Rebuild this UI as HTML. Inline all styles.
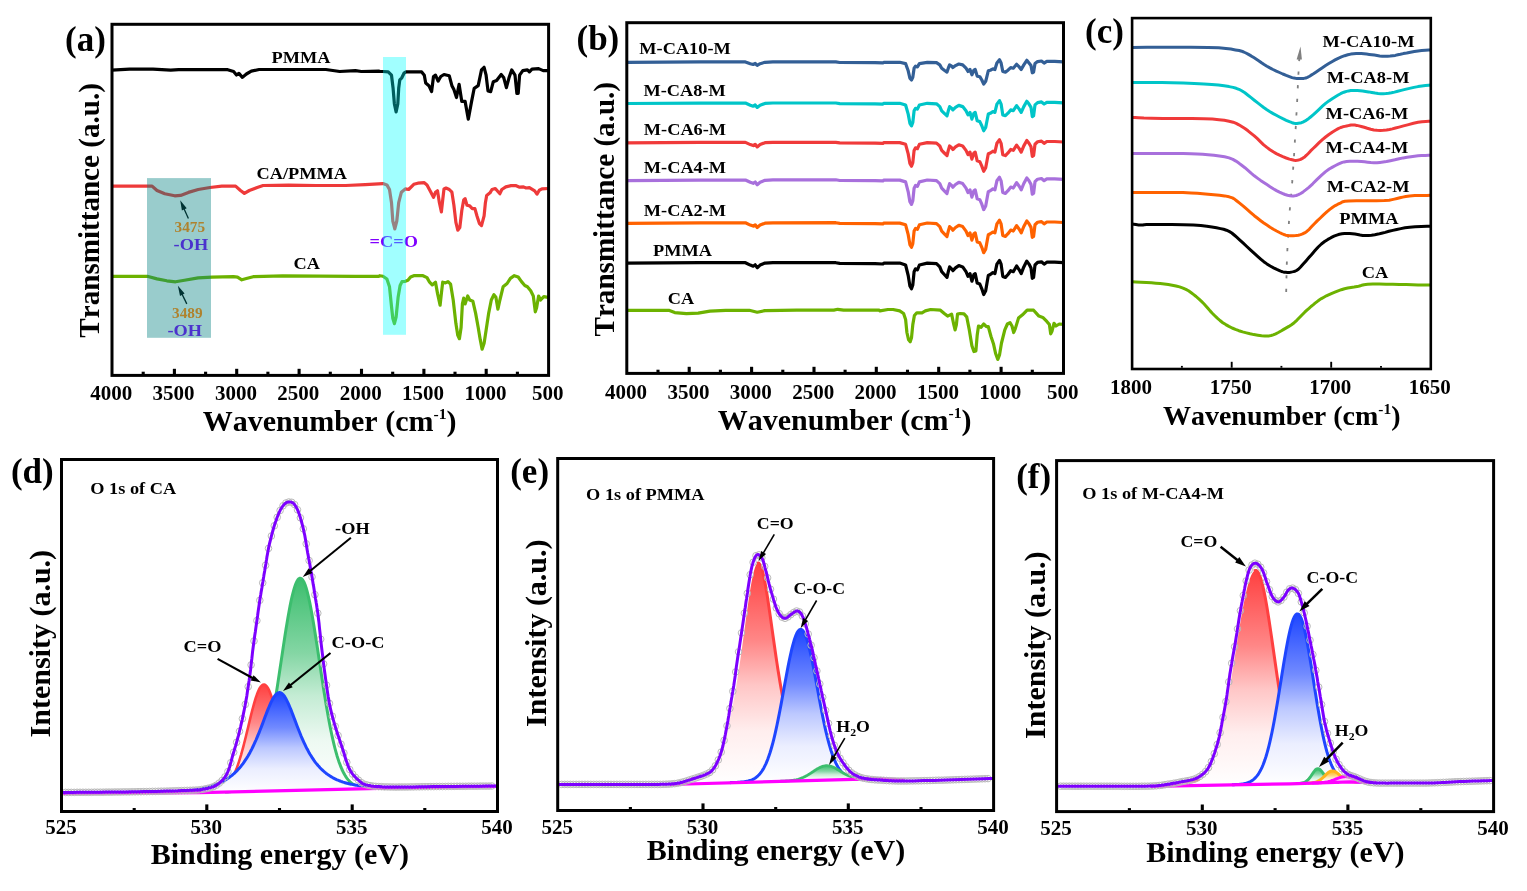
<!DOCTYPE html>
<html lang="en"><head><meta charset="utf-8"><title>FTIR and XPS O 1s spectra</title>
<style>
html,body{margin:0;padding:0;background:#fff;}
svg{display:block;}
text{font-family:"Liberation Serif",serif;font-weight:bold;font-kerning:none;}
</style></head><body>
<svg width="1527" height="891" viewBox="0 0 1527 891">
<defs>
<linearGradient id="g1" gradientUnits="userSpaceOnUse" x1="0" y1="578.2" x2="0" y2="792.1"><stop offset="0" stop-color="#3cbe6e"/><stop offset="0.35" stop-color="#84d6a4"/><stop offset="0.55" stop-color="#c4ecd4"/><stop offset="0.76" stop-color="#edf9f2"/><stop offset="1" stop-color="#ffffff"/></linearGradient>
<linearGradient id="g2" gradientUnits="userSpaceOnUse" x1="0" y1="684.5" x2="0" y2="792.6"><stop offset="0" stop-color="#ff4040"/><stop offset="0.35" stop-color="#ff8787"/><stop offset="0.55" stop-color="#ffc6c6"/><stop offset="0.76" stop-color="#ffeeee"/><stop offset="1" stop-color="#ffffff"/></linearGradient>
<linearGradient id="g3" gradientUnits="userSpaceOnUse" x1="0" y1="692.6" x2="0" y2="793"><stop offset="0" stop-color="#1e46ff"/><stop offset="0.35" stop-color="#718aff"/><stop offset="0.55" stop-color="#bcc8ff"/><stop offset="0.76" stop-color="#ebeeff"/><stop offset="1" stop-color="#ffffff"/></linearGradient>
<linearGradient id="g4" gradientUnits="userSpaceOnUse" x1="0" y1="777.5" x2="0" y2="784.5"><stop offset="0" stop-color="#ff4040"/><stop offset="0.35" stop-color="#ff8787"/><stop offset="0.55" stop-color="#ffc6c6"/><stop offset="0.76" stop-color="#ffeeee"/><stop offset="1" stop-color="#ffffff"/></linearGradient>
<linearGradient id="g5" gradientUnits="userSpaceOnUse" x1="0" y1="563" x2="0" y2="784.6"><stop offset="0" stop-color="#ff4040"/><stop offset="0.35" stop-color="#ff8787"/><stop offset="0.55" stop-color="#ffc6c6"/><stop offset="0.76" stop-color="#ffeeee"/><stop offset="1" stop-color="#ffffff"/></linearGradient>
<linearGradient id="g6" gradientUnits="userSpaceOnUse" x1="0" y1="629.4" x2="0" y2="782.7"><stop offset="0" stop-color="#1e46ff"/><stop offset="0.35" stop-color="#718aff"/><stop offset="0.55" stop-color="#bcc8ff"/><stop offset="0.76" stop-color="#ebeeff"/><stop offset="1" stop-color="#ffffff"/></linearGradient>
<linearGradient id="g7" gradientUnits="userSpaceOnUse" x1="0" y1="765.7" x2="0" y2="781.5"><stop offset="0" stop-color="#3cbe6e"/><stop offset="0.35" stop-color="#84d6a4"/><stop offset="0.55" stop-color="#c4ecd4"/><stop offset="0.76" stop-color="#edf9f2"/><stop offset="1" stop-color="#ffffff"/></linearGradient>
<linearGradient id="g8" gradientUnits="userSpaceOnUse" x1="0" y1="779.5" x2="0" y2="786.2"><stop offset="0" stop-color="#ff4040"/><stop offset="0.35" stop-color="#ff8787"/><stop offset="0.55" stop-color="#ffc6c6"/><stop offset="0.76" stop-color="#ffeeee"/><stop offset="1" stop-color="#ffffff"/></linearGradient>
<linearGradient id="g9" gradientUnits="userSpaceOnUse" x1="0" y1="570.4" x2="0" y2="785.8"><stop offset="0" stop-color="#ff4040"/><stop offset="0.35" stop-color="#ff8787"/><stop offset="0.55" stop-color="#ffc6c6"/><stop offset="0.76" stop-color="#ffeeee"/><stop offset="1" stop-color="#ffffff"/></linearGradient>
<linearGradient id="g10" gradientUnits="userSpaceOnUse" x1="0" y1="613.8" x2="0" y2="784.8"><stop offset="0" stop-color="#1e46ff"/><stop offset="0.35" stop-color="#718aff"/><stop offset="0.55" stop-color="#bcc8ff"/><stop offset="0.76" stop-color="#ebeeff"/><stop offset="1" stop-color="#ffffff"/></linearGradient>
<linearGradient id="g11" gradientUnits="userSpaceOnUse" x1="0" y1="768.7" x2="0" y2="783.6"><stop offset="0" stop-color="#3cbe6e"/><stop offset="0.35" stop-color="#84d6a4"/><stop offset="0.55" stop-color="#c4ecd4"/><stop offset="0.76" stop-color="#edf9f2"/><stop offset="1" stop-color="#ffffff"/></linearGradient>
<linearGradient id="g12" gradientUnits="userSpaceOnUse" x1="0" y1="770.9" x2="0" y2="783.2"><stop offset="0" stop-color="#ffb41e"/><stop offset="0.35" stop-color="#ffd071"/><stop offset="0.55" stop-color="#ffe8bc"/><stop offset="0.76" stop-color="#fff8eb"/><stop offset="1" stop-color="#ffffff"/></linearGradient>
<linearGradient id="g13" gradientUnits="userSpaceOnUse" x1="0" y1="776.6" x2="0" y2="783.1"><stop offset="0" stop-color="#ffb0f0"/><stop offset="0.35" stop-color="#ffcdf6"/><stop offset="0.55" stop-color="#ffe7fa"/><stop offset="0.76" stop-color="#fff8fe"/><stop offset="1" stop-color="#ffffff"/></linearGradient>
</defs>
<rect width="1527" height="891" fill="#fff"/>
<g id="panel-a">
<path d="M111.8 70.1 L129.5 69.1 L153 69.1 L170.7 70.1 L178.6 69.7 L227.7 69.7 L233.6 71.5 L236.5 75 L238.9 73.4 L242.4 77.4 L246.4 74 L251.3 71.1 L259.1 69.5 L325.9 69.5 L339.7 71.5 L355.4 70.7 L361.3 71.5 L379 71.1 L379.7 71.5 L383 71.5 L388.2 71.9 L391.5 75.2 L393.1 88.3 L394.4 104 L396.1 111.9 L397.8 104 L398.7 88.3 L399.8 79.8 L401.8 77.8 L404 73.2 L406 71.9 L408.6 71.9 L421.7 71.9 L424.3 75.2 L425.7 83 L428.9 85.7 L431.6 91.6 L433.5 76.5 L435.5 75.2 L438.1 81.1 L440.8 76.5 L444 74.5 L449.3 75.8 L451.9 85.7 L453.9 89.6 L456.5 97.5 L459.1 84.3 L461.8 101.4 L465.1 101.4 L468.3 119.1 L471.6 101.4 L474.2 88.3 L478.2 85.7 L481.5 69.9 L484.1 67.3 L486.1 75.2 L488 90.9 L490.7 91.6 L493.3 81.7 L496.6 80.4 L501.2 74.5 L503.8 77.8 L506.4 87.6 L509 77.8 L511.7 69.9 L515 75.2 L516.9 93.5 L518.2 93.5 L519.6 75.2 L522.8 70.6 L527.4 69.9 L529.4 71.9 L532 69.2 L538.6 68.6 L543.2 70.6 L548 70.6" fill="none" stroke="#000" stroke-width="3.2" stroke-linejoin="round" stroke-linecap="butt" />
<path d="M111.8 186.1 L147.2 186.1 L152.1 186.1 L157 190.5 L164.8 193.8 L174.7 195.8 L180.6 195.4 L188.4 192.4 L198.2 189.5 L210 187.5 L221.8 186.1 L235.6 186.1 L240.5 190.5 L244.4 193.4 L249.3 190.5 L257.2 187.5 L263.1 185.5 L288.6 185.1 L316.1 185.5 L345.6 185.5 L365.2 184.6 L382.9 183.6 L386.9 184.9 L389.5 189.5 L391.5 202.7 L392.8 221 L394.8 228.9 L396.8 221 L398.7 202.7 L401.4 192.2 L405.3 188.9 L408.6 189.5 L413.8 184.3 L417.8 183.2 L424.3 182.7 L427 184.9 L430.9 192.2 L433.5 197.4 L435.5 192.2 L437.5 190.8 L439.4 202.7 L441.4 211.9 L442.7 200 L444 188.9 L446 188 L449.3 189.5 L451.9 192.2 L453.9 205.3 L455.9 222.4 L457.8 230.2 L459.8 227.6 L461.8 210.5 L463.7 200 L465.1 198.7 L467 205.3 L469.7 205.9 L472.3 208.6 L474.9 208.6 L476.9 215.8 L479.5 223.7 L481.5 225.6 L484.1 215.8 L485.4 202.7 L486.7 195.4 L490 192.8 L492 189.5 L495.3 188.5 L497.9 191.5 L499.9 193.7 L501.8 189.5 L505.8 186.9 L511 185.6 L515.6 185.6 L519.6 187.2 L523.5 186.9 L526.1 188 L529.4 187.6 L534.7 190.8 L537 194.1 L539.3 190.2 L541.9 188.9 L548 188.5" fill="none" stroke="#EE3A3A" stroke-width="3.2" stroke-linejoin="round" stroke-linecap="butt" />
<path d="M111.8 276.3 L147.2 276.3 L157 278.9 L166.8 280.8 L175.6 281.8 L184.5 280.2 L198.2 277.9 L212 277.1 L233.6 276.7 L237.5 277.1 L241.8 279.8 L246.4 278.5 L253.2 276.7 L282.7 275.9 L355.4 276.3 L379 276.3 L379.7 275.7 L383 276.3 L386.9 279 L389.5 286.8 L391.5 306.5 L392.8 318.3 L394.4 323.6 L396.1 317 L398.1 297.3 L400.1 285.5 L402 281.6 L405.3 281.3 L407.9 280.3 L410.6 277 L413.8 275.7 L423 275.7 L427 277.6 L429.6 282.2 L432.2 284.9 L435.5 282.2 L437.5 293.4 L440.1 305.2 L441.4 293.4 L442.7 282.2 L445.4 282.9 L448 281.6 L450.6 284.2 L453.2 300 L455.9 323.6 L457.8 335.4 L459.4 338.7 L461.1 327.5 L462.4 303.9 L463.7 298 L465.1 303.9 L467.7 296 L469.7 300 L472.9 301.3 L475.6 313.1 L478.2 327.5 L480.2 339.4 L482.1 349.2 L484.1 343.3 L486.1 330.2 L488.7 313.1 L491.3 300 L493.9 294.7 L495.9 297.3 L497.9 309.2 L499.9 300 L503.1 286.8 L507.1 283.5 L510.4 278.3 L514.3 275.7 L518.2 277 L521.5 281.6 L524.8 285.5 L527.4 286.8 L530.7 290.8 L533.3 296 L535.3 311.8 L536.6 307.8 L538.6 296 L540.6 300 L543.8 296.7 L548 297.3" fill="none" stroke="#6CB200" stroke-width="3.2" stroke-linejoin="round" stroke-linecap="butt" />
<line x1="188.4" y1="218.5" x2="183.9" y2="208.5" stroke="#000" stroke-width="1.3"/>
<path d="M180.2 200.3 L186.7 208.3 L181.9 210.5 Z" fill="#000"/>
<line x1="186.8" y1="303.9" x2="181.9" y2="293.9" stroke="#000" stroke-width="1.3"/>
<path d="M177.9 285.8 L184.6 293.6 L180 295.9 Z" fill="#000"/>
<text transform="translate(369.6 246.6) scale(1.018 0.945)" font-size="18" text-anchor="start" fill="#8000FF">=C=O</text>
<rect x="147" y="178.1" width="64" height="159.7" fill="#008080" fill-opacity="0.4"/>
<rect x="383" y="57" width="23" height="277.8" fill="#00FFFF" fill-opacity="0.37"/>
<text transform="translate(174.5 231.7) scale(1.018 0.945)" font-size="15" text-anchor="start" fill="#AF822D">3475</text>
<text transform="translate(173.6 249.8) scale(1.018 0.945)" font-size="18" text-anchor="start" fill="#4B32CD">-OH</text>
<text transform="translate(172 317.9) scale(1.018 0.945)" font-size="15" text-anchor="start" fill="#AF822D">3489</text>
<text transform="translate(167.5 335.7) scale(1.018 0.945)" font-size="18" text-anchor="start" fill="#4B32CD">-OH</text>
<text transform="translate(271.5 62.8) scale(1.018 0.945)" font-size="18" text-anchor="start" fill="#000">PMMA</text>
<text transform="translate(256.6 179) scale(1.018 0.945)" font-size="18" text-anchor="start" fill="#000">CA/PMMA</text>
<text transform="translate(293.5 268.6) scale(1.018 0.945)" font-size="18" text-anchor="start" fill="#000">CA</text>
<rect x="112" y="24.3" width="436.6" height="351.1" fill="none" stroke="#000" stroke-width="3"/>
<line x1="174.4" y1="374" x2="174.4" y2="368.8" stroke="#000" stroke-width="3.1"/>
<line x1="236.7" y1="374" x2="236.7" y2="368.8" stroke="#000" stroke-width="3.1"/>
<line x1="299.1" y1="374" x2="299.1" y2="368.8" stroke="#000" stroke-width="3.1"/>
<line x1="361.5" y1="374" x2="361.5" y2="368.8" stroke="#000" stroke-width="3.1"/>
<line x1="423.9" y1="374" x2="423.9" y2="368.8" stroke="#000" stroke-width="3.1"/>
<line x1="486.2" y1="374" x2="486.2" y2="368.8" stroke="#000" stroke-width="3.1"/>
<line x1="143.2" y1="374" x2="143.2" y2="371.7" stroke="#000" stroke-width="3.1"/>
<line x1="205.6" y1="374" x2="205.6" y2="371.7" stroke="#000" stroke-width="3.1"/>
<line x1="267.9" y1="374" x2="267.9" y2="371.7" stroke="#000" stroke-width="3.1"/>
<line x1="330.3" y1="374" x2="330.3" y2="371.7" stroke="#000" stroke-width="3.1"/>
<line x1="392.7" y1="374" x2="392.7" y2="371.7" stroke="#000" stroke-width="3.1"/>
<line x1="455" y1="374" x2="455" y2="371.7" stroke="#000" stroke-width="3.1"/>
<line x1="517.4" y1="374" x2="517.4" y2="371.7" stroke="#000" stroke-width="3.1"/>
<text x="111.2" y="399.9" font-size="21" text-anchor="middle" fill="#000" >4000</text>
<text x="173.6" y="399.9" font-size="21" text-anchor="middle" fill="#000" >3500</text>
<text x="235.9" y="399.9" font-size="21" text-anchor="middle" fill="#000" >3000</text>
<text x="298.3" y="399.9" font-size="21" text-anchor="middle" fill="#000" >2500</text>
<text x="360.7" y="399.9" font-size="21" text-anchor="middle" fill="#000" >2000</text>
<text x="423.1" y="399.9" font-size="21" text-anchor="middle" fill="#000" >1500</text>
<text x="485.4" y="399.9" font-size="21" text-anchor="middle" fill="#000" >1000</text>
<text x="547.8" y="399.9" font-size="21" text-anchor="middle" fill="#000" >500</text>
<text x="329.6" y="430.6" font-size="30" text-anchor="middle" fill="#000" >Wavenumber (cm<tspan font-size="15.6" dy="-11.4">-1</tspan><tspan dy="11.4">)</tspan></text>
<text x="98.8" y="210.4" font-size="29.1" text-anchor="middle" fill="#000" transform="rotate(-90 98.8 210.4)" >Transmittance (a.u.)</text>
<text x="65" y="50.5" font-size="35" text-anchor="start" fill="#000" >(a)</text>
</g>
<g id="panel-b">
<path d="M626.5 62.3 L700.2 61.9 L745.4 61.9 L750.3 63.7 L753.2 64.5 L755.2 63.5 L757.2 65.4 L760.1 63.7 L765 62.3 L772.9 61.9 L835.8 61.9 L839.7 62.5 L875 62.7 L882.9 62.9 L883.9 62.3 L899.7 62.3 L905.6 63.6 L908.2 70.8 L909.9 78.1 L911.5 80 L912.8 77.4 L914.1 68.2 L915.5 66.2 L917.4 66.9 L919.4 63.6 L927.3 62.3 L936.5 62.7 L939.8 64.9 L941.7 68.2 L944.3 70.2 L947 72.1 L948.3 68.2 L949.6 64.9 L951.6 66.2 L952.9 67.6 L955.5 65.6 L958.8 64 L962.7 64.9 L966 68.2 L968 71.5 L970 69.5 L971.9 74.8 L973.9 70.2 L975.2 69.5 L977.2 76.1 L979.8 76.7 L981.8 80 L983.7 84 L985.7 81.3 L987 76.1 L988.3 70.8 L990.3 70.2 L992.9 68.9 L994.9 69.5 L996.9 63 L999.5 59.7 L1001.1 63 L1002.8 71.5 L1005.4 72.1 L1008 70.2 L1010.7 67.6 L1013.3 68.2 L1016.6 64.3 L1019.2 66.9 L1021.2 69.5 L1023.8 64.9 L1026.8 60.3 L1029 63 L1031 65.6 L1032.3 72.8 L1033.6 72.1 L1035 63.6 L1037.6 61.6 L1041.5 61 L1044.1 63 L1046.8 61.4 L1054.7 61.4 L1063.2 61.9" fill="none" stroke="#335F96" stroke-width="3.2" stroke-linejoin="round" stroke-linecap="butt" />
<path d="M626.5 103.5 L700.2 103.1 L745.4 103 L750.3 105.2 L753.2 106.2 L755.2 104.9 L757.2 107.4 L760.1 105.2 L765 103.4 L772.9 103 L835.8 103 L839.7 103.6 L875 103.8 L882.9 104.1 L883.9 103.3 L899.7 103.3 L905.6 105 L908.2 114.1 L909.9 123.3 L911.5 125.8 L912.8 122.5 L914.1 110.8 L915.5 108.3 L917.4 109.1 L919.4 105 L927.3 103.3 L936.5 103.8 L939.8 106.6 L941.7 110.8 L944.3 113.3 L947 115.8 L948.3 110.8 L949.6 106.6 L951.6 108.3 L952.9 109.9 L955.5 107.4 L958.8 105.4 L962.7 106.6 L966 110.8 L968 114.9 L970 112.4 L971.9 119.1 L973.9 113.3 L975.2 112.4 L977.2 120.8 L979.8 121.6 L981.8 125.8 L983.7 130.8 L985.7 127.4 L987 120.8 L988.3 114.1 L990.3 113.3 L992.9 111.6 L994.9 112.4 L996.9 104.1 L999.5 100.6 L1001.1 104.1 L1002.8 114.9 L1005.4 115.7 L1008 113.2 L1010.7 109.9 L1013.3 110.7 L1016.6 105.7 L1019.2 109.1 L1021.2 112.4 L1023.8 106.6 L1026.8 101.3 L1029 104.1 L1031 107.4 L1032.3 116.6 L1033.6 115.7 L1035 104.9 L1037.6 102.6 L1041.5 101.9 L1044.1 104 L1046.8 102.3 L1054.7 102.3 L1063.2 102.8" fill="none" stroke="#00C5C8" stroke-width="3.2" stroke-linejoin="round" stroke-linecap="butt" />
<path d="M626.5 142.9 L700.2 142.4 L745.4 142.4 L750.3 144.6 L753.2 145.6 L755.2 144.3 L757.2 146.9 L760.1 144.6 L765 142.7 L772.9 142.3 L835.8 142.3 L839.7 142.9 L875 143.1 L882.9 143.4 L883.9 142.6 L899.7 142.6 L905.6 144.3 L908.2 153.9 L909.9 163.5 L911.5 166.2 L912.8 162.7 L914.1 150.4 L915.5 147.8 L917.4 148.7 L919.4 144.3 L927.3 142.6 L936.5 143.1 L939.8 146 L941.7 150.4 L944.3 153 L947 155.6 L948.3 150.4 L949.6 146 L951.6 147.8 L952.9 149.5 L955.5 146.9 L958.8 144.8 L962.7 146 L966 150.4 L968 154.7 L970 152.1 L971.9 159.1 L973.9 153 L975.2 152.1 L977.2 160.8 L979.8 161.7 L981.8 166.1 L983.7 171.3 L985.7 167.8 L987 160.8 L988.3 153.8 L990.3 153 L992.9 151.2 L994.9 152.1 L996.9 143.3 L999.5 139.8 L1001.1 143.3 L1002.8 154.7 L1005.4 155.6 L1008 152.9 L1010.7 149.4 L1013.3 150.3 L1016.6 145.1 L1019.2 148.6 L1021.2 152.1 L1023.8 145.9 L1026.8 140.5 L1029 143.3 L1031 146.8 L1032.3 156.4 L1033.6 155.5 L1035 144.2 L1037.6 141.8 L1041.5 141.1 L1044.1 143.3 L1046.8 141.5 L1054.7 141.5 L1063.2 142" fill="none" stroke="#F03A3A" stroke-width="3.2" stroke-linejoin="round" stroke-linecap="butt" />
<path d="M626.5 180.6 L700.2 180.1 L745.4 180 L750.3 182.3 L753.2 183.3 L755.2 182 L757.2 184.7 L760.1 182.2 L765 180.3 L772.9 179.9 L835.8 179.8 L839.7 180.5 L875 180.7 L882.9 180.9 L883.9 180.1 L899.7 180.1 L905.6 181.9 L908.2 191.8 L909.9 201.7 L911.5 204.4 L912.8 200.8 L914.1 188.2 L915.5 185.5 L917.4 186.4 L919.4 181.9 L927.3 180 L936.5 180.6 L939.8 183.6 L941.7 188.1 L944.3 190.8 L947 193.5 L948.3 188.1 L949.6 183.6 L951.6 185.4 L952.9 187.2 L955.5 184.5 L958.8 182.3 L962.7 183.6 L966 188.1 L968 192.6 L970 189.9 L971.9 197.1 L973.9 190.8 L975.2 189.9 L977.2 198.8 L979.8 199.7 L981.8 204.2 L983.7 209.6 L985.7 206 L987 198.8 L988.3 191.6 L990.3 190.7 L992.9 188.9 L994.9 189.8 L996.9 180.8 L999.5 177.3 L1001.1 180.8 L1002.8 192.5 L1005.4 193.4 L1008 190.7 L1010.7 187.1 L1013.3 188 L1016.6 182.6 L1019.2 186.2 L1021.2 189.8 L1023.8 183.5 L1026.8 177.9 L1029 180.8 L1031 184.4 L1032.3 194.2 L1033.6 193.3 L1035 181.7 L1037.6 179.2 L1041.5 178.5 L1044.1 180.7 L1046.8 178.9 L1054.7 178.9 L1063.2 179.4" fill="none" stroke="#A870DC" stroke-width="3.2" stroke-linejoin="round" stroke-linecap="butt" />
<path d="M626.5 223.3 L700.2 222.8 L745.4 222.8 L750.3 225.1 L753.2 226.1 L755.2 224.8 L757.2 227.5 L760.1 225.1 L765 223.2 L772.9 222.8 L835.8 222.7 L839.7 223.4 L875 223.6 L882.9 223.9 L883.9 223.1 L899.7 223.1 L905.6 224.8 L908.2 234.7 L909.9 244.6 L911.5 247.3 L912.8 243.7 L914.1 231.1 L915.5 228.4 L917.4 229.3 L919.4 224.8 L927.3 223 L936.5 223.6 L939.8 226.6 L941.7 231.1 L944.3 233.8 L947 236.5 L948.3 231.1 L949.6 226.6 L951.6 228.4 L952.9 230.2 L955.5 227.5 L958.8 225.3 L962.7 226.6 L966 231.1 L968 235.6 L970 232.9 L971.9 240.1 L973.9 233.8 L975.2 232.9 L977.2 241.9 L979.8 242.8 L981.8 247.3 L983.7 252.7 L985.7 249.1 L987 241.9 L988.3 234.7 L990.3 233.8 L992.9 232 L994.9 232.9 L996.9 223.9 L999.5 220.3 L1001.1 223.9 L1002.8 235.5 L1005.4 236.4 L1008 233.7 L1010.7 230.1 L1013.3 231 L1016.6 225.6 L1019.2 229.2 L1021.2 232.8 L1023.8 226.5 L1026.8 221 L1029 223.8 L1031 227.4 L1032.3 237.3 L1033.6 236.4 L1035 224.7 L1037.6 222.3 L1041.5 221.6 L1044.1 223.8 L1046.8 222 L1054.7 222 L1063.2 222.5" fill="none" stroke="#FF6200" stroke-width="3.2" stroke-linejoin="round" stroke-linecap="butt" />
<path d="M626.5 263.1 L700.2 262.7 L745.4 262.7 L750.3 265.1 L753.2 266.2 L755.2 264.8 L757.2 267.7 L760.1 265.1 L765 263.1 L772.9 262.7 L835.8 262.7 L839.7 263.4 L875 263.7 L882.9 264 L883.9 263.1 L899.7 263.1 L905.6 265 L908.2 275.5 L909.9 285.9 L911.5 288.8 L912.8 285 L914.1 271.7 L915.5 268.8 L917.4 269.8 L919.4 265 L927.3 263.1 L936.5 263.7 L939.8 266.9 L941.7 271.7 L944.3 274.5 L947 277.4 L948.3 271.7 L949.6 266.9 L951.6 268.8 L952.9 270.7 L955.5 267.9 L958.8 265.6 L962.7 266.9 L966 271.7 L968 276.4 L970 273.6 L971.9 281.2 L973.9 274.5 L975.2 273.6 L977.2 283.1 L979.8 284 L981.8 288.8 L983.7 294.5 L985.7 290.7 L987 283.1 L988.3 275.5 L990.3 274.5 L992.9 272.6 L994.9 273.6 L996.9 264.1 L999.5 260.5 L1001.1 264.1 L1002.8 276.4 L1005.4 277.4 L1008 274.5 L1010.7 270.7 L1013.3 271.7 L1016.6 266 L1019.2 269.8 L1021.2 273.6 L1023.8 266.9 L1026.8 261.1 L1029 264.1 L1031 267.9 L1032.3 278.3 L1033.6 277.4 L1035 265 L1037.6 262.4 L1041.5 261.8 L1044.1 264.1 L1046.8 262.2 L1054.7 262.2 L1063.2 262.7" fill="none" stroke="#000000" stroke-width="3.2" stroke-linejoin="round" stroke-linecap="butt" />
<path d="M626.5 310.3 L668.8 310.3 L674.7 312.6 L686.4 313.6 L698.2 313.2 L710 311.2 L725.7 310.3 L749.3 310.3 L757.2 312.2 L765 310.6 L796.5 310.1 L833.8 310.1 L837.7 309.3 L843.6 310.1 L879 310.1 L880 310.9 L887.9 309.5 L893.1 309.5 L899.7 310.9 L903.6 313.5 L905.6 319.4 L906.9 332.5 L908.6 339.8 L910.2 341.7 L911.5 337.8 L912.8 324.6 L914.4 315.5 L916.8 312.8 L922 312.8 L925.3 310.9 L930.6 309.5 L940.4 310.2 L944.3 313.5 L947.6 316.1 L951.6 314.1 L953.5 323.3 L955.1 329.9 L956.4 324.6 L957.5 314.1 L960.1 313.5 L964 313.9 L966.7 316.8 L969.3 329.9 L971.9 345.7 L973.9 351.6 L975.9 350.9 L977.2 335.2 L978.5 326 L981.1 327.3 L983.7 324 L986.4 326.6 L988.3 326.6 L991 336.5 L993.6 344.3 L995.6 353.5 L997.8 359.4 L999.5 354.9 L1001.5 343 L1004.8 329.9 L1007.4 324 L1010 322.7 L1012 326 L1013.7 332.5 L1015.3 328.6 L1018.5 318.1 L1022.5 314.8 L1027.1 310.2 L1033.6 310.2 L1038.9 316.1 L1042.8 317.4 L1046.8 321.4 L1049.4 324.6 L1050.7 333.8 L1052 331.2 L1054 323.3 L1056 326 L1059.3 324 L1063.2 324.4" fill="none" stroke="#6CB200" stroke-width="3.2" stroke-linejoin="round" stroke-linecap="butt" />
<text transform="translate(639.3 53.8) scale(1.018 0.945)" font-size="18" text-anchor="start" fill="#000">M-CA10-M</text>
<text transform="translate(643.4 95.6) scale(1.018 0.945)" font-size="18" text-anchor="start" fill="#000">M-CA8-M</text>
<text transform="translate(643.8 134.5) scale(1.018 0.945)" font-size="18" text-anchor="start" fill="#000">M-CA6-M</text>
<text transform="translate(643.8 172.7) scale(1.018 0.945)" font-size="18" text-anchor="start" fill="#000">M-CA4-M</text>
<text transform="translate(643.8 215.8) scale(1.018 0.945)" font-size="18" text-anchor="start" fill="#000">M-CA2-M</text>
<text transform="translate(653 255.6) scale(1.018 0.945)" font-size="18" text-anchor="start" fill="#000">PMMA</text>
<text transform="translate(667.8 303.8) scale(1.018 0.945)" font-size="18" text-anchor="start" fill="#000">CA</text>
<rect x="626.8" y="22.7" width="436.7" height="350.7" fill="none" stroke="#000" stroke-width="3"/>
<line x1="689.2" y1="372" x2="689.2" y2="366.8" stroke="#000" stroke-width="3.1"/>
<line x1="751.6" y1="372" x2="751.6" y2="366.8" stroke="#000" stroke-width="3.1"/>
<line x1="814" y1="372" x2="814" y2="366.8" stroke="#000" stroke-width="3.1"/>
<line x1="876.3" y1="372" x2="876.3" y2="366.8" stroke="#000" stroke-width="3.1"/>
<line x1="938.7" y1="372" x2="938.7" y2="366.8" stroke="#000" stroke-width="3.1"/>
<line x1="1001.1" y1="372" x2="1001.1" y2="366.8" stroke="#000" stroke-width="3.1"/>
<line x1="658" y1="372" x2="658" y2="369.7" stroke="#000" stroke-width="3.1"/>
<line x1="720.4" y1="372" x2="720.4" y2="369.7" stroke="#000" stroke-width="3.1"/>
<line x1="782.8" y1="372" x2="782.8" y2="369.7" stroke="#000" stroke-width="3.1"/>
<line x1="845.1" y1="372" x2="845.1" y2="369.7" stroke="#000" stroke-width="3.1"/>
<line x1="907.5" y1="372" x2="907.5" y2="369.7" stroke="#000" stroke-width="3.1"/>
<line x1="969.9" y1="372" x2="969.9" y2="369.7" stroke="#000" stroke-width="3.1"/>
<line x1="1032.3" y1="372" x2="1032.3" y2="369.7" stroke="#000" stroke-width="3.1"/>
<text x="626" y="398.6" font-size="21" text-anchor="middle" fill="#000" >4000</text>
<text x="688.4" y="398.6" font-size="21" text-anchor="middle" fill="#000" >3500</text>
<text x="750.8" y="398.6" font-size="21" text-anchor="middle" fill="#000" >3000</text>
<text x="813.2" y="398.6" font-size="21" text-anchor="middle" fill="#000" >2500</text>
<text x="875.5" y="398.6" font-size="21" text-anchor="middle" fill="#000" >2000</text>
<text x="937.9" y="398.6" font-size="21" text-anchor="middle" fill="#000" >1500</text>
<text x="1000.3" y="398.6" font-size="21" text-anchor="middle" fill="#000" >1000</text>
<text x="1062.7" y="398.6" font-size="21" text-anchor="middle" fill="#000" >500</text>
<text x="844.6" y="429.6" font-size="30" text-anchor="middle" fill="#000" >Wavenumber (cm<tspan font-size="15.6" dy="-11.4">-1</tspan><tspan dy="11.4">)</tspan></text>
<text x="614.3" y="209.2" font-size="29.1" text-anchor="middle" fill="#000" transform="rotate(-90 614.3 209.2)" >Transmittance (a.u.)</text>
<text x="576.5" y="50.1" font-size="35" text-anchor="start" fill="#000" >(b)</text>
</g>
<g id="panel-c">
<path d="M1299.4 58 L1299.4 58.5 L1299.3 59 L1299.3 59.6 L1299.2 60.4 L1299.1 61.4 L1299 62.7 L1298.9 64.5 L1298.8 66.7 L1298.7 69.5 L1298.5 72.8 L1298.3 76.5 L1298.1 80.6 L1297.9 84.9 L1297.7 89.3 L1297.5 93.7 L1297.3 98.1 L1297.1 102.5 L1296.8 107.1 L1296.6 111.7 L1296.3 116.5 L1296 121.3 L1295.8 126.2 L1295.5 131 L1295.2 135.9 L1294.9 140.8 L1294.6 145.9 L1294.3 151.1 L1294 156.2 L1293.7 161.4 L1293.3 166.4 L1293 171.2 L1292.7 175.8 L1292.4 180.2 L1292 184.4 L1291.7 188.4 L1291.3 192.3 L1291 196.1 L1290.6 199.9 L1290.3 203.6 L1290 207.3 L1289.7 210.9 L1289.5 214.5 L1289.2 217.9 L1289 221.3 L1288.8 224.7 L1288.6 228.1 L1288.4 231.5 L1288.2 235 L1288 238.6 L1287.8 242.1 L1287.6 245.7 L1287.4 249.3 L1287.2 253 L1287.1 256.6 L1286.9 260.3 L1286.8 263.9 L1286.7 267.8 L1286.6 271.9 L1286.5 276.2 L1286.4 280.4 L1286.3 284.4 L1286.3 288 L1286.2 291 L1286.2 293.3" fill="none" stroke="#808080" stroke-width="1.8" stroke-linejoin="round" stroke-linecap="butt" stroke-dasharray="3.2 10.4"/>
<path d="M1300.5 46.6 L1301.9 59.6 L1296.6 59.6 Z" fill="#808080"/>
<path d="M1132.2 47.4 L1147 47.3 L1168.4 47.2 L1190.8 47.2 L1208.1 47.4 L1218.8 47.8 L1225.9 48.4 L1230.9 49.1 L1235.4 49.9 L1239.2 50.5 L1241.7 51.2 L1243.7 52 L1245.9 53 L1248.5 54.4 L1251.1 55.9 L1253.8 57.6 L1256.4 59.3 L1259 61 L1261.5 62.8 L1264.1 64.5 L1266.9 66.2 L1269.9 67.9 L1273 69.5 L1276.3 71.1 L1279.5 72.5 L1282.8 74 L1286.2 75.4 L1289.4 76.6 L1292.1 77.6 L1294.1 78.1 L1295.5 78.3 L1296.9 78.4 L1298.4 78.4 L1300.1 78.5 L1302 78.5 L1303.8 78.4 L1305.7 78 L1307.4 77.3 L1309.1 76.5 L1310.8 75.4 L1313.1 74 L1315.8 72.2 L1319 70 L1322.4 67.7 L1325.6 65.6 L1328.8 63.6 L1331.9 61.7 L1335.1 59.9 L1338.2 58.3 L1341.4 56.9 L1344.7 55.7 L1347.8 54.8 L1350.8 54.1 L1353.6 53.7 L1356.2 53.5 L1358.7 53.6 L1361.3 53.6 L1363.9 53.8 L1366.6 54.1 L1369.2 54.4 L1371.8 54.7 L1374.4 55.1 L1377.1 55.5 L1379.7 55.9 L1382.3 56.2 L1384.9 56.2 L1387.5 56.2 L1390.2 56 L1392.8 55.7 L1395.3 55.4 L1397.8 54.8 L1400.4 54.3 L1403.3 53.6 L1406.7 53 L1410.5 52.2 L1414.3 51.5 L1418 50.9 L1421.6 50.5 L1425.4 50.2 L1428.7 50 L1431 49.9" fill="none" stroke="#335F96" stroke-width="3" stroke-linejoin="round" stroke-linecap="butt" />
<path d="M1132.2 82.6 L1137.2 82.6 L1144.4 82.5 L1153 82.5 L1162 82.6 L1172 82.8 L1183.2 83.1 L1194.3 83.4 L1203.9 83.9 L1211.7 84.4 L1218.4 85 L1224.1 85.8 L1229.1 86.6 L1233.1 87.4 L1236.2 88.3 L1238.9 89.3 L1241.7 90.8 L1244.9 92.8 L1248 95.2 L1251.1 97.7 L1254.3 100.2 L1257.4 102.6 L1260.6 105.1 L1263.7 107.5 L1266.9 109.7 L1270 111.7 L1273.2 113.6 L1276.3 115.3 L1279.5 117 L1282.8 118.7 L1286.2 120.3 L1289.4 121.7 L1292.1 122.7 L1294.1 123.3 L1295.6 123.5 L1296.9 123.5 L1298.4 123.3 L1299.9 123.1 L1301.4 122.7 L1302.9 122.1 L1304.7 121.2 L1306.5 120.1 L1308.5 118.7 L1310.6 117 L1313.1 114.9 L1315.9 112.3 L1319.1 109.3 L1322.4 106.2 L1325.6 103.4 L1328.9 100.9 L1332.2 98.7 L1335.4 96.7 L1338.2 95 L1340.6 93.7 L1342.7 92.7 L1344.6 92 L1346.6 91.4 L1348.7 90.9 L1350.7 90.6 L1352.8 90.4 L1355 90.4 L1357.4 90.5 L1360 90.7 L1362.7 91 L1365.5 91.4 L1368.6 91.9 L1371.8 92.5 L1375.1 93.1 L1378.1 93.5 L1380.8 93.7 L1383.3 93.7 L1385.9 93.6 L1388.6 93.3 L1391.5 92.8 L1394.5 92.1 L1397.7 91.2 L1401.2 90.4 L1405.2 89.4 L1409.5 88.4 L1413.9 87.4 L1418 86.6 L1421.8 86 L1425.5 85.6 L1428.7 85.3 L1431 85.1" fill="none" stroke="#00C5C8" stroke-width="3" stroke-linejoin="round" stroke-linecap="butt" />
<path d="M1132.2 117.4 L1134.9 117.6 L1138.5 117.8 L1143.9 118.1 L1151.5 118.3 L1162.9 118.4 L1177.3 118.4 L1192 118.5 L1203.9 118.7 L1212.4 119.1 L1219 119.7 L1224.3 120.3 L1229.1 121.2 L1233.1 122.2 L1236.2 123.4 L1238.9 124.8 L1241.7 126.5 L1244.9 128.5 L1248 130.8 L1251.1 133.3 L1254.3 135.9 L1257.4 138.7 L1260.6 141.8 L1263.7 144.8 L1266.9 147.4 L1270 149.7 L1273.2 151.8 L1276.3 153.6 L1279.5 155.2 L1282.8 156.7 L1286.2 158 L1289.4 159.1 L1292.1 159.8 L1294.1 160.3 L1295.6 160.4 L1296.9 160.3 L1298.4 160 L1299.9 159.6 L1301.4 159 L1302.9 158.1 L1304.7 156.9 L1306.5 155.2 L1308.5 153.2 L1310.6 150.9 L1313.1 148.5 L1315.9 145.8 L1319.1 142.7 L1322.4 139.7 L1325.6 137 L1328.9 134.5 L1332.2 132.2 L1335.4 130.2 L1338.2 128.6 L1340.7 127.5 L1342.8 126.8 L1344.8 126.4 L1346.6 126 L1348.3 125.6 L1349.8 125.3 L1351.2 125 L1352.9 125 L1354.8 125.1 L1356.7 125.4 L1358.9 125.9 L1361.3 126.5 L1364.2 127.3 L1367.3 128.3 L1370.7 129.3 L1373.9 130 L1377.1 130.3 L1380.2 130.4 L1383.3 130.3 L1386.5 130 L1389.5 129.5 L1392.4 128.9 L1395.5 128 L1399.1 127.1 L1403.5 125.9 L1408.5 124.6 L1413.5 123.2 L1418 122.3 L1421.9 121.7 L1425.7 121.4 L1428.8 121.3 L1431 121.2" fill="none" stroke="#F03A3A" stroke-width="3" stroke-linejoin="round" stroke-linecap="butt" />
<path d="M1132.2 153.5 L1141.9 153.5 L1156 153.4 L1170.9 153.4 L1183 153.5 L1191.1 153.7 L1197.4 154 L1202.7 154.3 L1208.1 154.8 L1213.9 155.3 L1219.4 156 L1224.6 156.8 L1229.1 157.9 L1232.9 159.4 L1235.9 161.1 L1238.8 163.1 L1241.7 165.3 L1244.9 167.7 L1248 170.4 L1251.1 173.2 L1254.3 175.8 L1257.4 178.1 L1260.6 180.4 L1263.7 182.5 L1266.9 184.6 L1270.1 186.7 L1273.3 188.7 L1276.5 190.6 L1279.5 192.1 L1282.3 193.4 L1285 194.5 L1287.5 195.2 L1290 195.7 L1292.2 195.9 L1294.2 195.9 L1296.2 195.5 L1298.4 194.7 L1300.7 193.5 L1303.1 191.9 L1305.7 189.9 L1308.9 187.3 L1312.7 183.8 L1317.1 179.4 L1321.6 175.1 L1325.6 171.6 L1329.2 169 L1332.5 167.1 L1335.5 165.5 L1338.2 164.2 L1340.5 163.2 L1342.3 162.4 L1344.2 161.9 L1346.6 161.5 L1349.9 161.3 L1353.7 161.3 L1357.6 161.3 L1361.3 161.5 L1364.6 161.8 L1367.7 162.2 L1370.8 162.6 L1373.9 162.8 L1377 162.7 L1379.9 162.4 L1383.1 162 L1386.5 161.5 L1390.4 160.7 L1394.8 159.8 L1399.1 158.8 L1403.3 157.9 L1407.1 157.3 L1410.9 156.7 L1414.5 156.2 L1418 155.8 L1421.6 155.6 L1425.4 155.4 L1428.7 155.3 L1431 155.2" fill="none" stroke="#A870DC" stroke-width="3" stroke-linejoin="round" stroke-linecap="butt" />
<path d="M1132.2 192.6 L1141.9 192.6 L1156 192.5 L1170.9 192.5 L1183 192.6 L1191.1 192.9 L1197.4 193.3 L1202.7 193.8 L1208.1 194.3 L1213.9 194.8 L1219.5 195.2 L1224.7 195.9 L1229.1 196.8 L1232.4 197.9 L1234.8 199.3 L1236.9 201 L1239.6 203.1 L1243 205.9 L1246.8 209.2 L1250.7 212.6 L1254.3 215.7 L1257.6 218.3 L1260.7 220.7 L1263.8 223 L1266.9 225.1 L1270.1 227.2 L1273.4 229.2 L1276.6 231 L1279.5 232.5 L1281.8 233.6 L1283.8 234.5 L1285.7 235.2 L1287.9 235.6 L1290.4 235.8 L1293.1 235.8 L1295.8 235.6 L1298.4 235.2 L1300.6 234.6 L1302.6 233.9 L1304.6 232.9 L1306.8 231.4 L1309.2 229.3 L1311.7 226.6 L1314.4 223.8 L1317.2 220.9 L1320.3 218 L1323.5 214.9 L1326.8 211.9 L1329.8 209.4 L1332.7 207.3 L1335.3 205.6 L1337.9 204.2 L1340.3 203.1 L1341.9 202.2 L1343 201.7 L1344.8 201.3 L1348.7 201 L1356.3 200.8 L1366.3 200.8 L1376.5 200.7 L1384.4 200.6 L1389.2 200.2 L1392.1 199.6 L1394.4 199.1 L1397 198.5 L1399.9 197.8 L1402.7 197.1 L1405.8 196.5 L1409.6 195.9 L1414.8 195.6 L1421.1 195.5 L1426.9 195.4 L1431 195.3" fill="none" stroke="#FF6200" stroke-width="3" stroke-linejoin="round" stroke-linecap="butt" />
<path d="M1132.2 224.1 L1133.7 224.3 L1135.9 224.6 L1138.5 224.9 L1141 225.1 L1142.8 225 L1144.2 224.8 L1146.6 224.6 L1151.5 224.5 L1160.2 224.5 L1171.7 224.6 L1183.5 224.8 L1193.4 225.1 L1200.8 225.6 L1206.8 226.3 L1211.9 227.1 L1216.5 227.8 L1220.5 228.6 L1223.6 229.3 L1226.4 230.2 L1229.1 231.4 L1231.8 233 L1234.2 235 L1236.7 237.2 L1239.6 239.8 L1243 242.9 L1246.8 246.5 L1250.7 250.1 L1254.3 253.4 L1257.6 256.4 L1260.7 259.1 L1263.8 261.7 L1266.9 263.9 L1270.2 266 L1273.6 267.8 L1276.8 269.4 L1279.5 270.6 L1281.5 271.5 L1283 271.9 L1284.3 272.2 L1285.8 272.3 L1287.3 272.4 L1288.9 272.4 L1290.5 272.2 L1292.1 271.9 L1293.5 271.6 L1295 271.2 L1296.5 270.5 L1298.4 269.2 L1300.6 267 L1303.2 264.1 L1306 260.9 L1308.9 257.6 L1311.9 254.2 L1315 250.6 L1318.2 247 L1321.4 244 L1324.6 241.5 L1327.9 239.4 L1331 237.7 L1334 236.2 L1336.8 235.1 L1339.4 234.3 L1342 233.8 L1344.5 233.5 L1347.1 233.4 L1349.8 233.6 L1352.4 233.8 L1355 234.1 L1357.6 234.5 L1360.1 235 L1362.7 235.4 L1365.5 235.6 L1368.5 235.5 L1371.5 235.2 L1374.8 234.7 L1378.1 234.1 L1381.6 233.3 L1385.2 232.4 L1388.9 231.3 L1392.8 230.4 L1396.7 229.5 L1400.8 228.6 L1405 227.8 L1409.6 227.2 L1415.1 226.8 L1421.3 226.5 L1427 226.3 L1431 226.2" fill="none" stroke="#000000" stroke-width="3" stroke-linejoin="round" stroke-linecap="butt" />
<path d="M1132.2 281.8 L1135.7 281.9 L1140.8 282.2 L1146.4 282.5 L1151.5 282.8 L1155.9 283.2 L1160.2 283.5 L1164.3 283.9 L1168.3 284.5 L1172.2 285.2 L1176 286 L1179.6 286.9 L1183 288.1 L1185.9 289.4 L1188.5 290.8 L1190.9 292.5 L1193.4 294.4 L1196.1 296.5 L1198.8 298.9 L1201.5 301.4 L1203.9 303.8 L1206.1 306.2 L1208.1 308.5 L1210.1 310.9 L1212.3 313.2 L1214.8 315.7 L1217.3 318.1 L1220 320.5 L1222.8 322.7 L1225.8 324.6 L1228.9 326.4 L1232.1 328 L1235.4 329.4 L1238.9 330.7 L1242.6 331.9 L1246.4 332.9 L1250.1 333.8 L1253.9 334.6 L1257.8 335.2 L1261.6 335.7 L1264.8 335.9 L1267.3 336 L1269.2 335.9 L1271.1 335.5 L1273.2 334.9 L1275.7 333.8 L1278.3 332.5 L1281 331 L1283.7 329.4 L1286.3 327.9 L1288.9 326.4 L1291.5 324.7 L1294.2 322.7 L1296.8 320.3 L1299.5 317.5 L1302.2 314.7 L1304.7 312.2 L1306.9 310.1 L1309 308.3 L1311 306.5 L1313.1 304.9 L1315.1 303.2 L1317.1 301.6 L1319.2 300 L1321.4 298.6 L1323.9 297.2 L1326.4 295.8 L1329.1 294.6 L1331.9 293.3 L1334.9 292.1 L1338.1 290.8 L1341.3 289.7 L1344.5 288.7 L1347.7 288 L1351 287.5 L1354.1 287.1 L1357.1 286.6 L1359.5 286 L1361.6 285.3 L1364 284.7 L1367.6 284.3 L1372.9 284.1 L1379.3 284.1 L1386.1 284.2 L1392.8 284.3 L1399.4 284.4 L1406.1 284.6 L1412.5 284.8 L1418 284.9 L1422.4 285 L1426 285 L1428.9 284.9 L1431 284.9" fill="none" stroke="#6CB200" stroke-width="3" stroke-linejoin="round" stroke-linecap="butt" />
<text transform="translate(1322.5 46.7) scale(1.018 0.945)" font-size="18.1" text-anchor="start" fill="#000">M-CA10-M</text>
<text transform="translate(1326.7 83.4) scale(1.018 0.945)" font-size="18.1" text-anchor="start" fill="#000">M-CA8-M</text>
<text transform="translate(1325.5 119.1) scale(1.018 0.945)" font-size="18.1" text-anchor="start" fill="#000">M-CA6-M</text>
<text transform="translate(1325.5 152.7) scale(1.018 0.945)" font-size="18.1" text-anchor="start" fill="#000">M-CA4-M</text>
<text transform="translate(1326.7 192.2) scale(1.018 0.945)" font-size="18.1" text-anchor="start" fill="#000">M-CA2-M</text>
<text transform="translate(1339.3 223.6) scale(1.018 0.945)" font-size="18.1" text-anchor="start" fill="#000">PMMA</text>
<text transform="translate(1361.7 277.6) scale(1.018 0.945)" font-size="18.1" text-anchor="start" fill="#000">CA</text>
<rect x="1132.1" y="18.1" width="298.7" height="350.9" fill="none" stroke="#000" stroke-width="2.6"/>
<line x1="1231.7" y1="367.7" x2="1231.7" y2="361.8" stroke="#000" stroke-width="1.9"/>
<line x1="1331.2" y1="367.7" x2="1331.2" y2="361.8" stroke="#000" stroke-width="1.9"/>
<line x1="1181.9" y1="367.7" x2="1181.9" y2="365.9" stroke="#000" stroke-width="1.9"/>
<line x1="1281.4" y1="367.7" x2="1281.4" y2="365.9" stroke="#000" stroke-width="1.9"/>
<line x1="1381" y1="367.7" x2="1381" y2="365.9" stroke="#000" stroke-width="1.9"/>
<text x="1131.1" y="393.8" font-size="21" text-anchor="middle" fill="#000" >1800</text>
<text x="1230.7" y="393.8" font-size="21" text-anchor="middle" fill="#000" >1750</text>
<text x="1330.2" y="393.8" font-size="21" text-anchor="middle" fill="#000" >1700</text>
<text x="1429.8" y="393.8" font-size="21" text-anchor="middle" fill="#000" >1650</text>
<text x="1281.7" y="424.9" font-size="28" text-anchor="middle" fill="#000" >Wavenumber (cm<tspan font-size="15.4" dy="-10.6">-1</tspan><tspan dy="10.6">)</tspan></text>
<text x="1085" y="43.1" font-size="35" text-anchor="start" fill="#000" >(c)</text>
</g>
<g id="panel-d">
<path d="M225 792 L226 792 L227 791.9 L228 791.9 L229 791.8 L230 791.7 L231 791.6 L232 791.6 L233 791.5 L234 791.3 L235 791.2 L236 791.1 L237 790.9 L238 790.7 L239 790.5 L240 790.2 L241 789.9 L242 789.6 L243 789.2 L244 788.7 L245 788.2 L246 787.7 L247 787 L248 786.3 L249 785.5 L250 784.6 L251 783.5 L252 782.4 L253 781.1 L254 779.7 L255 778.1 L256 776.4 L257 774.5 L258 772.4 L259 770.1 L260 767.6 L261 764.9 L262 761.9 L263 758.7 L264 755.3 L265 751.6 L266 747.7 L267 743.5 L268 739.1 L269 734.4 L270 729.5 L271 724.3 L272 718.9 L273 713.2 L274 707.3 L275 701.3 L276 695 L277 688.7 L278 682.1 L279 675.5 L280 668.8 L281 662.1 L282 655.4 L283 648.7 L284 642.1 L285 635.6 L286 629.3 L287 623.2 L288 617.3 L289 611.7 L290 606.4 L291 601.4 L292 596.9 L293 592.8 L294 589.1 L295 586 L296 583.3 L297 581.2 L298 579.6 L299 578.6 L300 578.2 L301 578.4 L302 579.1 L303 580.4 L304 582.2 L305 584.6 L306 587.5 L307 590.9 L308 594.8 L309 599.1 L310 603.9 L311 609 L312 614.4 L313 620.2 L314 626.2 L315 632.4 L316 638.8 L317 645.3 L318 651.9 L319 658.5 L320 665.2 L321 671.9 L322 678.5 L323 685 L324 691.4 L325 697.6 L326 703.7 L327 709.6 L328 715.3 L329 720.8 L330 726 L331 731 L332 735.8 L333 740.2 L334 744.5 L335 748.5 L336 752.2 L337 755.7 L338 758.9 L339 761.9 L340 764.6 L341 767.2 L342 769.5 L343 771.6 L344 773.6 L345 775.3 L346 776.9 L347 778.3 L348 779.6 L349 780.8 L350 781.8 L351 782.7 L352 783.5 L353 784.2 L354 784.9 L355 785.4 L356 785.9 L357 786.3 L358 786.7 L359 787 L360 787.3 L361 787.5 L362 787.7 L363 787.8 L364 788 L365 788.1 L366 788.2 L367 788.2 L368 788.3 L369 788.4 L370 788.4 L371 788.4 L372 788.4 L373 788.4 L374 788.4 L375 788.4 L376 788.4 L377 788.4 L378 788.4 L379 788.4 L380 788.4 L381 788.4 L382 788.4 L383 788.3 L384 788.3 L385 788.3 L385 788.3 L225 792.1 Z" fill="url(#g1)" stroke="none"/>
<path d="M225 792 L226 792 L227 791.9 L228 791.9 L229 791.8 L230 791.7 L231 791.6 L232 791.6 L233 791.5 L234 791.3 L235 791.2 L236 791.1 L237 790.9 L238 790.7 L239 790.5 L240 790.2 L241 789.9 L242 789.6 L243 789.2 L244 788.7 L245 788.2 L246 787.7 L247 787 L248 786.3 L249 785.5 L250 784.6 L251 783.5 L252 782.4 L253 781.1 L254 779.7 L255 778.1 L256 776.4 L257 774.5 L258 772.4 L259 770.1 L260 767.6 L261 764.9 L262 761.9 L263 758.7 L264 755.3 L265 751.6 L266 747.7 L267 743.5 L268 739.1 L269 734.4 L270 729.5 L271 724.3 L272 718.9 L273 713.2 L274 707.3 L275 701.3 L276 695 L277 688.7 L278 682.1 L279 675.5 L280 668.8 L281 662.1 L282 655.4 L283 648.7 L284 642.1 L285 635.6 L286 629.3 L287 623.2 L288 617.3 L289 611.7 L290 606.4 L291 601.4 L292 596.9 L293 592.8 L294 589.1 L295 586 L296 583.3 L297 581.2 L298 579.6 L299 578.6 L300 578.2 L301 578.4 L302 579.1 L303 580.4 L304 582.2 L305 584.6 L306 587.5 L307 590.9 L308 594.8 L309 599.1 L310 603.9 L311 609 L312 614.4 L313 620.2 L314 626.2 L315 632.4 L316 638.8 L317 645.3 L318 651.9 L319 658.5 L320 665.2 L321 671.9 L322 678.5 L323 685 L324 691.4 L325 697.6 L326 703.7 L327 709.6 L328 715.3 L329 720.8 L330 726 L331 731 L332 735.8 L333 740.2 L334 744.5 L335 748.5 L336 752.2 L337 755.7 L338 758.9 L339 761.9 L340 764.6 L341 767.2 L342 769.5 L343 771.6 L344 773.6 L345 775.3 L346 776.9 L347 778.3 L348 779.6 L349 780.8 L350 781.8 L351 782.7 L352 783.5 L353 784.2 L354 784.9 L355 785.4 L356 785.9 L357 786.3 L358 786.7 L359 787 L360 787.3 L361 787.5 L362 787.7 L363 787.8 L364 788 L365 788.1 L366 788.2 L367 788.2 L368 788.3 L369 788.4 L370 788.4 L371 788.4 L372 788.4 L373 788.4 L374 788.4 L375 788.4 L376 788.4 L377 788.4 L378 788.4 L379 788.4 L380 788.4 L381 788.4 L382 788.4 L383 788.3 L384 788.3 L385 788.3" fill="none" stroke="#3CBE6E" stroke-width="3" stroke-linejoin="round"/>
<path d="M205 792.5 L206 792.4 L207 792.4 L208 792.3 L209 792.3 L210 792.2 L211 792.1 L212 792 L213 791.9 L214 791.7 L215 791.5 L216 791.3 L217 791.1 L218 790.8 L219 790.5 L220 790.2 L221 789.7 L222 789.2 L223 788.7 L224 788 L225 787.3 L226 786.4 L227 785.5 L228 784.4 L229 783.2 L230 781.8 L231 780.3 L232 778.6 L233 776.7 L234 774.7 L235 772.5 L236 770 L237 767.4 L238 764.6 L239 761.6 L240 758.4 L241 755.1 L242 751.5 L243 747.8 L244 744 L245 740 L246 736 L247 731.8 L248 727.7 L249 723.5 L250 719.4 L251 715.3 L252 711.3 L253 707.5 L254 703.8 L255 700.4 L256 697.2 L257 694.3 L258 691.8 L259 689.5 L260 687.7 L261 686.3 L262 685.3 L263 684.7 L264 684.5 L265 684.8 L266 685.5 L267 686.6 L268 688.2 L269 690.1 L270 692.5 L271 695.1 L272 698.1 L273 701.3 L274 704.8 L275 708.5 L276 712.3 L277 716.3 L278 720.4 L279 724.5 L280 728.6 L281 732.7 L282 736.7 L283 740.7 L284 744.6 L285 748.3 L286 751.9 L287 755.3 L288 758.6 L289 761.7 L290 764.5 L291 767.2 L292 769.7 L293 772 L294 774.1 L295 776 L296 777.8 L297 779.3 L298 780.7 L299 782 L300 783.1 L301 784.1 L302 785 L303 785.7 L304 786.4 L305 787 L306 787.4 L307 787.9 L308 788.2 L309 788.5 L310 788.8 L311 789 L312 789.1 L313 789.3 L314 789.4 L315 789.5 L316 789.6 L317 789.6 L318 789.7 L319 789.7 L320 789.7 L321 789.7 L322 789.7 L323 789.7 L324 789.7 L325 789.7 L325 789.7 L205 792.6 Z" fill="url(#g2)" stroke="none"/>
<path d="M205 792.5 L206 792.4 L207 792.4 L208 792.3 L209 792.3 L210 792.2 L211 792.1 L212 792 L213 791.9 L214 791.7 L215 791.5 L216 791.3 L217 791.1 L218 790.8 L219 790.5 L220 790.2 L221 789.7 L222 789.2 L223 788.7 L224 788 L225 787.3 L226 786.4 L227 785.5 L228 784.4 L229 783.2 L230 781.8 L231 780.3 L232 778.6 L233 776.7 L234 774.7 L235 772.5 L236 770 L237 767.4 L238 764.6 L239 761.6 L240 758.4 L241 755.1 L242 751.5 L243 747.8 L244 744 L245 740 L246 736 L247 731.8 L248 727.7 L249 723.5 L250 719.4 L251 715.3 L252 711.3 L253 707.5 L254 703.8 L255 700.4 L256 697.2 L257 694.3 L258 691.8 L259 689.5 L260 687.7 L261 686.3 L262 685.3 L263 684.7 L264 684.5 L265 684.8 L266 685.5 L267 686.6 L268 688.2 L269 690.1 L270 692.5 L271 695.1 L272 698.1 L273 701.3 L274 704.8 L275 708.5 L276 712.3 L277 716.3 L278 720.4 L279 724.5 L280 728.6 L281 732.7 L282 736.7 L283 740.7 L284 744.6 L285 748.3 L286 751.9 L287 755.3 L288 758.6 L289 761.7 L290 764.5 L291 767.2 L292 769.7 L293 772 L294 774.1 L295 776 L296 777.8 L297 779.3 L298 780.7 L299 782 L300 783.1 L301 784.1 L302 785 L303 785.7 L304 786.4 L305 787 L306 787.4 L307 787.9 L308 788.2 L309 788.5 L310 788.8 L311 789 L312 789.1 L313 789.3 L314 789.4 L315 789.5 L316 789.6 L317 789.6 L318 789.7 L319 789.7 L320 789.7 L321 789.7 L322 789.7 L323 789.7 L324 789.7 L325 789.7" fill="none" stroke="#FF4040" stroke-width="2.6" stroke-linejoin="round"/>
<path d="M150 792.7 L151 792.7 L152 792.7 L153 792.6 L154 792.6 L155 792.6 L156 792.6 L157 792.5 L158 792.5 L159 792.5 L160 792.5 L161 792.4 L162 792.4 L163 792.4 L164 792.3 L165 792.3 L166 792.2 L167 792.2 L168 792.2 L169 792.1 L170 792.1 L171 792 L172 792 L173 791.9 L174 791.9 L175 791.8 L176 791.8 L177 791.7 L178 791.6 L179 791.6 L180 791.5 L181 791.4 L182 791.3 L183 791.3 L184 791.2 L185 791.1 L186 791 L187 790.9 L188 790.8 L189 790.7 L190 790.6 L191 790.4 L192 790.3 L193 790.2 L194 790.1 L195 789.9 L196 789.8 L197 789.6 L198 789.5 L199 789.3 L200 789.1 L201 788.9 L202 788.7 L203 788.5 L204 788.2 L205 788 L206 787.7 L207 787.5 L208 787.2 L209 786.9 L210 786.6 L211 786.3 L212 786 L213 785.6 L214 785.3 L215 784.9 L216 784.5 L217 784.1 L218 783.7 L219 783.3 L220 782.8 L221 782.3 L222 781.8 L223 781.3 L224 780.7 L225 780.2 L226 779.6 L227 778.9 L228 778.3 L229 777.6 L230 776.8 L231 776.1 L232 775.3 L233 774.4 L234 773.6 L235 772.6 L236 771.7 L237 770.7 L238 769.6 L239 768.5 L240 767.4 L241 766.2 L242 764.9 L243 763.6 L244 762.2 L245 760.7 L246 759.2 L247 757.6 L248 756 L249 754.2 L250 752.4 L251 750.5 L252 748.6 L253 746.5 L254 744.4 L255 742.2 L256 740 L257 737.6 L258 735.2 L259 732.8 L260 730.3 L261 727.7 L262 725.1 L263 722.4 L264 719.8 L265 717.1 L266 714.5 L267 711.9 L268 709.4 L269 707 L270 704.6 L271 702.4 L272 700.4 L273 698.6 L274 696.9 L275 695.5 L276 694.4 L277 693.5 L278 692.9 L279 692.6 L280 692.6 L281 693 L282 693.6 L283 694.5 L284 695.7 L285 697.2 L286 698.8 L287 700.8 L288 702.8 L289 705.1 L290 707.5 L291 709.9 L292 712.5 L293 715.1 L294 717.8 L295 720.4 L296 723.1 L297 725.7 L298 728.3 L299 730.8 L300 733.3 L301 735.8 L302 738.1 L303 740.4 L304 742.6 L305 744.7 L306 746.8 L307 748.8 L308 750.6 L309 752.5 L310 754.2 L311 755.8 L312 757.4 L313 758.9 L314 760.4 L315 761.8 L316 763.1 L317 764.3 L318 765.5 L319 766.6 L320 767.7 L321 768.7 L322 769.7 L323 770.6 L324 771.5 L325 772.4 L326 773.2 L327 773.9 L328 774.7 L329 775.3 L330 776 L331 776.6 L332 777.2 L333 777.8 L334 778.3 L335 778.8 L336 779.3 L337 779.8 L338 780.2 L339 780.6 L340 781 L341 781.4 L342 781.7 L343 782.1 L344 782.4 L345 782.7 L346 783 L347 783.3 L348 783.5 L349 783.8 L350 784 L351 784.2 L352 784.4 L353 784.6 L354 784.8 L355 785 L356 785.2 L357 785.3 L358 785.5 L359 785.6 L360 785.8 L361 785.9 L362 786 L363 786.2 L364 786.3 L365 786.4 L366 786.5 L367 786.6 L368 786.6 L369 786.7 L370 786.8 L371 786.9 L372 786.9 L373 787 L374 787.1 L375 787.1 L376 787.2 L377 787.2 L378 787.2 L379 787.3 L380 787.3 L381 787.4 L382 787.4 L383 787.4 L384 787.4 L385 787.5 L386 787.5 L387 787.5 L388 787.5 L389 787.5 L390 787.6 L391 787.6 L392 787.6 L393 787.6 L394 787.6 L395 787.6 L396 787.6 L397 787.6 L398 787.7 L399 787.7 L400 787.7 L401 787.7 L402 787.7 L403 787.7 L404 787.7 L405 787.7 L406 787.7 L407 787.7 L408 787.7 L409 787.7 L410 787.7 L411 787.7 L412 787.6 L413 787.6 L414 787.6 L415 787.6 L416 787.6 L417 787.6 L418 787.6 L419 787.6 L420 787.6 L420 787.7 L150 793 Z" fill="url(#g3)" stroke="none"/>
<path d="M150 792.7 L151 792.7 L152 792.7 L153 792.6 L154 792.6 L155 792.6 L156 792.6 L157 792.5 L158 792.5 L159 792.5 L160 792.5 L161 792.4 L162 792.4 L163 792.4 L164 792.3 L165 792.3 L166 792.2 L167 792.2 L168 792.2 L169 792.1 L170 792.1 L171 792 L172 792 L173 791.9 L174 791.9 L175 791.8 L176 791.8 L177 791.7 L178 791.6 L179 791.6 L180 791.5 L181 791.4 L182 791.3 L183 791.3 L184 791.2 L185 791.1 L186 791 L187 790.9 L188 790.8 L189 790.7 L190 790.6 L191 790.4 L192 790.3 L193 790.2 L194 790.1 L195 789.9 L196 789.8 L197 789.6 L198 789.5 L199 789.3 L200 789.1 L201 788.9 L202 788.7 L203 788.5 L204 788.2 L205 788 L206 787.7 L207 787.5 L208 787.2 L209 786.9 L210 786.6 L211 786.3 L212 786 L213 785.6 L214 785.3 L215 784.9 L216 784.5 L217 784.1 L218 783.7 L219 783.3 L220 782.8 L221 782.3 L222 781.8 L223 781.3 L224 780.7 L225 780.2 L226 779.6 L227 778.9 L228 778.3 L229 777.6 L230 776.8 L231 776.1 L232 775.3 L233 774.4 L234 773.6 L235 772.6 L236 771.7 L237 770.7 L238 769.6 L239 768.5 L240 767.4 L241 766.2 L242 764.9 L243 763.6 L244 762.2 L245 760.7 L246 759.2 L247 757.6 L248 756 L249 754.2 L250 752.4 L251 750.5 L252 748.6 L253 746.5 L254 744.4 L255 742.2 L256 740 L257 737.6 L258 735.2 L259 732.8 L260 730.3 L261 727.7 L262 725.1 L263 722.4 L264 719.8 L265 717.1 L266 714.5 L267 711.9 L268 709.4 L269 707 L270 704.6 L271 702.4 L272 700.4 L273 698.6 L274 696.9 L275 695.5 L276 694.4 L277 693.5 L278 692.9 L279 692.6 L280 692.6 L281 693 L282 693.6 L283 694.5 L284 695.7 L285 697.2 L286 698.8 L287 700.8 L288 702.8 L289 705.1 L290 707.5 L291 709.9 L292 712.5 L293 715.1 L294 717.8 L295 720.4 L296 723.1 L297 725.7 L298 728.3 L299 730.8 L300 733.3 L301 735.8 L302 738.1 L303 740.4 L304 742.6 L305 744.7 L306 746.8 L307 748.8 L308 750.6 L309 752.5 L310 754.2 L311 755.8 L312 757.4 L313 758.9 L314 760.4 L315 761.8 L316 763.1 L317 764.3 L318 765.5 L319 766.6 L320 767.7 L321 768.7 L322 769.7 L323 770.6 L324 771.5 L325 772.4 L326 773.2 L327 773.9 L328 774.7 L329 775.3 L330 776 L331 776.6 L332 777.2 L333 777.8 L334 778.3 L335 778.8 L336 779.3 L337 779.8 L338 780.2 L339 780.6 L340 781 L341 781.4 L342 781.7 L343 782.1 L344 782.4 L345 782.7 L346 783 L347 783.3 L348 783.5 L349 783.8 L350 784 L351 784.2 L352 784.4 L353 784.6 L354 784.8 L355 785 L356 785.2 L357 785.3 L358 785.5 L359 785.6 L360 785.8 L361 785.9 L362 786 L363 786.2 L364 786.3 L365 786.4 L366 786.5 L367 786.6 L368 786.6 L369 786.7 L370 786.8 L371 786.9 L372 786.9 L373 787 L374 787.1 L375 787.1 L376 787.2 L377 787.2 L378 787.2 L379 787.3 L380 787.3 L381 787.4 L382 787.4 L383 787.4 L384 787.4 L385 787.5 L386 787.5 L387 787.5 L388 787.5 L389 787.5 L390 787.6 L391 787.6 L392 787.6 L393 787.6 L394 787.6 L395 787.6 L396 787.6 L397 787.6 L398 787.7 L399 787.7 L400 787.7 L401 787.7 L402 787.7 L403 787.7 L404 787.7 L405 787.7 L406 787.7 L407 787.7 L408 787.7 L409 787.7 L410 787.7 L411 787.7 L412 787.6 L413 787.6 L414 787.6 L415 787.6 L416 787.6 L417 787.6 L418 787.6 L419 787.6 L420 787.6" fill="none" stroke="#1E46FF" stroke-width="3" stroke-linejoin="round"/>
<path d="M63 793.4 L200 792.7 L390 788.2 L496 786.4" fill="none" stroke="#FF00FF" stroke-width="3.2" stroke-linejoin="round" stroke-linecap="butt" />
<g fill="none" stroke="#b9b9b9" stroke-width="1"><circle cx="65.5" cy="792.4" r="3.3"/><circle cx="68.4" cy="792.4" r="3.3"/><circle cx="71.3" cy="792.4" r="3.3"/><circle cx="74.2" cy="792.4" r="3.3"/><circle cx="77.1" cy="792.3" r="3.3"/><circle cx="80" cy="792.3" r="3.3"/><circle cx="82.9" cy="792.3" r="3.3"/><circle cx="85.8" cy="792.3" r="3.3"/><circle cx="88.7" cy="792.3" r="3.3"/><circle cx="91.6" cy="792.3" r="3.3"/><circle cx="94.5" cy="792.2" r="3.3"/><circle cx="97.4" cy="792.2" r="3.3"/><circle cx="100.3" cy="792.2" r="3.3"/><circle cx="103.2" cy="792.2" r="3.3"/><circle cx="106.1" cy="792.1" r="3.3"/><circle cx="109" cy="792.1" r="3.3"/><circle cx="111.9" cy="792.1" r="3.3"/><circle cx="114.8" cy="792" r="3.3"/><circle cx="117.7" cy="792" r="3.3"/><circle cx="120.6" cy="792" r="3.3"/><circle cx="123.5" cy="791.9" r="3.3"/><circle cx="126.4" cy="791.9" r="3.3"/><circle cx="129.3" cy="791.9" r="3.3"/><circle cx="132.2" cy="791.8" r="3.3"/><circle cx="135.1" cy="791.8" r="3.3"/><circle cx="138" cy="791.7" r="3.3"/><circle cx="140.9" cy="791.7" r="3.3"/><circle cx="143.8" cy="791.6" r="3.3"/><circle cx="146.7" cy="791.6" r="3.3"/><circle cx="149.6" cy="791.5" r="3.3"/><circle cx="152.5" cy="791.4" r="3.3"/><circle cx="155.4" cy="791.4" r="3.3"/><circle cx="158.3" cy="791.3" r="3.3"/><circle cx="161.2" cy="791.2" r="3.3"/><circle cx="164.1" cy="791.2" r="3.3"/><circle cx="167" cy="791.1" r="3.3"/><circle cx="169.9" cy="791" r="3.3"/><circle cx="172.8" cy="790.9" r="3.3"/><circle cx="175.7" cy="790.8" r="3.3"/><circle cx="178.6" cy="790.7" r="3.3"/><circle cx="181.5" cy="790.6" r="3.3"/><circle cx="184.4" cy="790.5" r="3.3"/><circle cx="187.3" cy="790.4" r="3.3"/><circle cx="190.2" cy="790.3" r="3.3"/><circle cx="193.1" cy="790.2" r="3.3"/><circle cx="196" cy="790.1" r="3.3"/><circle cx="198.9" cy="789.9" r="3.3"/><circle cx="201.8" cy="789.5" r="3.3"/><circle cx="204.7" cy="789" r="3.3"/><circle cx="207.6" cy="788.4" r="3.3"/><circle cx="210.5" cy="787.7" r="3.3"/><circle cx="213.4" cy="786.7" r="3.3"/><circle cx="216.3" cy="785.2" r="3.3"/><circle cx="219.2" cy="783.1" r="3.3"/><circle cx="222.1" cy="780.5" r="3.3"/><circle cx="225" cy="776.9" r="3.3"/><circle cx="227.9" cy="771.6" r="3.3"/><circle cx="230.8" cy="762.7" r="3.3"/><circle cx="233.7" cy="752.2" r="3.3"/><circle cx="236.6" cy="742.3" r="3.3"/><circle cx="239.5" cy="731.3" r="3.3"/><circle cx="242.4" cy="718.7" r="3.3"/><circle cx="245.3" cy="704.4" r="3.3"/><circle cx="248.2" cy="686.7" r="3.3"/><circle cx="251.1" cy="664.9" r="3.3"/><circle cx="254" cy="641" r="3.3"/><circle cx="256.9" cy="620.6" r="3.3"/><circle cx="259.8" cy="600.3" r="3.3"/><circle cx="262.7" cy="582.8" r="3.3"/><circle cx="265.6" cy="565.3" r="3.3"/><circle cx="268.5" cy="548.4" r="3.3"/><circle cx="271.4" cy="536" r="3.3"/><circle cx="274.3" cy="525.8" r="3.3"/><circle cx="277.2" cy="517.3" r="3.3"/><circle cx="280.1" cy="510.5" r="3.3"/><circle cx="283" cy="505.8" r="3.3"/><circle cx="285.9" cy="503" r="3.3"/><circle cx="288.8" cy="502" r="3.3"/><circle cx="291.7" cy="502.3" r="3.3"/><circle cx="294.6" cy="504.6" r="3.3"/><circle cx="297.5" cy="509.8" r="3.3"/><circle cx="300.4" cy="517.8" r="3.3"/><circle cx="303.3" cy="528.8" r="3.3"/><circle cx="306.2" cy="543.8" r="3.3"/><circle cx="309.1" cy="560.5" r="3.3"/><circle cx="312" cy="576.9" r="3.3"/><circle cx="314.9" cy="594.7" r="3.3"/><circle cx="317.8" cy="613.2" r="3.3"/><circle cx="320.7" cy="639.2" r="3.3"/><circle cx="323.6" cy="663.9" r="3.3"/><circle cx="326.5" cy="685.2" r="3.3"/><circle cx="329.4" cy="703.4" r="3.3"/><circle cx="332.3" cy="716.2" r="3.3"/><circle cx="335.2" cy="726.3" r="3.3"/><circle cx="338.1" cy="735.5" r="3.3"/><circle cx="341" cy="744.2" r="3.3"/><circle cx="343.9" cy="753" r="3.3"/><circle cx="346.8" cy="762.3" r="3.3"/><circle cx="349.7" cy="769.5" r="3.3"/><circle cx="352.6" cy="774.1" r="3.3"/><circle cx="355.5" cy="777.4" r="3.3"/><circle cx="358.4" cy="780.1" r="3.3"/><circle cx="361.3" cy="782.6" r="3.3"/><circle cx="364.2" cy="784.2" r="3.3"/><circle cx="367.1" cy="785" r="3.3"/><circle cx="370" cy="785.6" r="3.3"/><circle cx="372.9" cy="786.1" r="3.3"/><circle cx="375.8" cy="786.4" r="3.3"/><circle cx="378.7" cy="786.6" r="3.3"/><circle cx="381.6" cy="786.7" r="3.3"/><circle cx="384.5" cy="786.9" r="3.3"/><circle cx="387.4" cy="786.9" r="3.3"/><circle cx="390.3" cy="787" r="3.3"/><circle cx="393.2" cy="787" r="3.3"/><circle cx="396.1" cy="787.1" r="3.3"/><circle cx="399" cy="787" r="3.3"/><circle cx="401.9" cy="787" r="3.3"/><circle cx="404.8" cy="787" r="3.3"/><circle cx="407.7" cy="787" r="3.3"/><circle cx="410.6" cy="786.9" r="3.3"/><circle cx="413.5" cy="786.9" r="3.3"/><circle cx="416.4" cy="786.8" r="3.3"/><circle cx="419.3" cy="786.8" r="3.3"/><circle cx="422.2" cy="786.7" r="3.3"/><circle cx="425.1" cy="786.7" r="3.3"/><circle cx="428" cy="786.7" r="3.3"/><circle cx="430.9" cy="786.6" r="3.3"/><circle cx="433.8" cy="786.6" r="3.3"/><circle cx="436.7" cy="786.5" r="3.3"/><circle cx="439.6" cy="786.5" r="3.3"/><circle cx="442.5" cy="786.5" r="3.3"/><circle cx="445.4" cy="786.5" r="3.3"/><circle cx="448.3" cy="786.4" r="3.3"/><circle cx="451.2" cy="786.4" r="3.3"/><circle cx="454.1" cy="786.4" r="3.3"/><circle cx="457" cy="786.3" r="3.3"/><circle cx="459.9" cy="786.3" r="3.3"/><circle cx="462.8" cy="786.3" r="3.3"/><circle cx="465.7" cy="786.3" r="3.3"/><circle cx="468.6" cy="786.2" r="3.3"/><circle cx="471.5" cy="786.2" r="3.3"/><circle cx="474.4" cy="786.2" r="3.3"/><circle cx="477.3" cy="786.2" r="3.3"/><circle cx="480.2" cy="786.1" r="3.3"/><circle cx="483.1" cy="786.1" r="3.3"/><circle cx="486" cy="786.1" r="3.3"/><circle cx="488.9" cy="786.1" r="3.3"/><circle cx="491.8" cy="786" r="3.3"/></g>
<path d="M62 792.4 L64.8 792.4 L68.5 792.4 L72.9 792.4 L77.9 792.3 L83.2 792.3 L88.8 792.3 L94.4 792.3 L100 792.2 L105.7 792.1 L111.9 792.1 L118.3 792 L124.9 791.9 L131.5 791.8 L137.9 791.7 L144.1 791.6 L150 791.5 L155.7 791.4 L161.3 791.2 L166.9 791.1 L172.3 790.9 L177.4 790.8 L182.1 790.6 L186.4 790.4 L190 790.3 L192.9 790.2 L195.2 790.1 L196.9 790 L198.2 790 L199.4 789.9 L200.4 789.8 L201.6 789.6 L203.1 789.3 L204.8 789 L206.5 788.7 L208.2 788.3 L209.9 787.9 L211.5 787.4 L213.2 786.8 L214.8 786.1 L216.3 785.2 L217.8 784.2 L219.2 783.1 L220.6 781.9 L222 780.6 L223.3 779.2 L224.5 777.6 L225.7 775.9 L226.8 774 L227.8 771.9 L228.7 769.5 L229.6 767 L230.3 764.4 L231.1 761.6 L231.8 758.9 L232.5 756.2 L233.3 753.5 L234.1 750.9 L234.8 748.4 L235.6 745.9 L236.3 743.4 L237 740.8 L237.7 738.1 L238.5 735.4 L239.2 732.5 L239.9 729.5 L240.7 726.3 L241.4 723.1 L242.2 719.8 L242.9 716.4 L243.6 712.9 L244.3 709.5 L245 706 L245.6 702.5 L246.3 698.9 L246.9 695.4 L247.4 691.7 L248 688.1 L248.5 684.4 L249.1 680.7 L249.6 677 L250.1 673.3 L250.6 669.5 L251 665.8 L251.4 662 L251.9 658.2 L252.3 654.4 L252.7 650.7 L253.2 647 L253.7 643.3 L254.2 639.5 L254.7 635.7 L255.3 632 L255.8 628.3 L256.3 624.8 L256.8 621.5 L257.2 618.5 L257.6 615.8 L257.9 613.3 L258.2 611.1 L258.5 609 L258.8 607 L259.1 605 L259.4 603 L259.7 600.9 L260 598.7 L260.4 596.5 L260.8 594.3 L261.1 592.1 L261.5 590 L261.9 587.8 L262.2 585.6 L262.6 583.4 L263 581.2 L263.3 579 L263.7 576.8 L264 574.6 L264.4 572.5 L264.8 570.3 L265.1 568.1 L265.5 565.9 L265.9 563.7 L266.2 561.5 L266.6 559.3 L266.9 557.1 L267.3 554.9 L267.7 552.7 L268.1 550.5 L268.5 548.4 L268.9 546.3 L269.4 544.2 L269.9 542.1 L270.4 540.1 L270.9 538.1 L271.4 536.1 L271.9 534.2 L272.4 532.3 L272.9 530.5 L273.4 528.7 L273.9 527 L274.4 525.4 L274.9 523.8 L275.4 522.2 L276 520.7 L276.5 519.2 L277 517.8 L277.6 516.3 L278.1 515 L278.7 513.6 L279.2 512.4 L279.8 511.2 L280.3 510 L280.9 509 L281.5 508.1 L282 507.2 L282.6 506.4 L283.1 505.6 L283.7 505 L284.2 504.4 L284.8 503.9 L285.3 503.4 L285.8 503 L286.4 502.7 L286.9 502.4 L287.4 502.2 L288 502.1 L288.5 502 L289.1 502 L289.6 502 L290.1 502 L290.7 502.1 L291.2 502.2 L291.8 502.4 L292.3 502.6 L292.9 502.9 L293.4 503.3 L294 503.9 L294.6 504.6 L295.1 505.4 L295.7 506.3 L296.2 507.3 L296.8 508.4 L297.4 509.5 L297.9 510.7 L298.4 511.9 L298.9 513.2 L299.4 514.5 L299.8 516 L300.3 517.4 L300.7 518.9 L301.2 520.5 L301.6 522 L302 523.6 L302.4 525.2 L302.8 526.7 L303.2 528.3 L303.6 530 L303.9 531.6 L304.3 533.3 L304.7 535 L305 536.7 L305.3 538.5 L305.6 540.2 L305.9 542.1 L306.2 543.9 L306.5 545.8 L306.8 547.6 L307.1 549.5 L307.4 551.3 L307.7 553.1 L308.1 554.9 L308.4 556.8 L308.7 558.6 L309.1 560.4 L309.4 562.2 L309.8 564.1 L310.1 565.9 L310.4 567.7 L310.7 569.5 L311 571.3 L311.4 573.1 L311.7 574.9 L312 576.7 L312.3 578.6 L312.6 580.5 L312.9 582.4 L313.2 584.4 L313.6 586.3 L313.9 588.3 L314.2 590.3 L314.5 592.3 L314.9 594.4 L315.2 596.6 L315.5 598.7 L315.9 600.8 L316.2 602.8 L316.6 605 L316.9 607.2 L317.3 609.7 L317.7 612.4 L318.1 615.5 L318.5 619 L319 622.9 L319.4 627.2 L319.9 631.6 L320.4 636.1 L320.8 640.6 L321.3 644.9 L321.8 649.1 L322.3 653.1 L322.8 657 L323.2 660.9 L323.7 664.8 L324.2 668.6 L324.7 672.3 L325.2 676 L325.7 679.6 L326.2 683.1 L326.7 686.6 L327.2 690.1 L327.7 693.5 L328.2 696.7 L328.8 699.9 L329.3 703 L329.9 706 L330.5 708.8 L331.1 711.4 L331.7 713.8 L332.3 716.2 L332.9 718.5 L333.6 720.9 L334.3 723.4 L335.1 726 L335.9 728.8 L336.9 731.7 L337.8 734.8 L338.9 737.8 L339.9 740.9 L340.9 743.9 L341.9 746.8 L342.8 749.6 L343.7 752.3 L344.5 755 L345.3 757.7 L346.1 760.3 L347 762.8 L347.8 765.1 L348.7 767.3 L349.6 769.3 L350.6 771.1 L351.6 772.7 L352.6 774.1 L353.7 775.4 L354.8 776.6 L355.9 777.8 L357 778.8 L358.1 779.8 L359.1 780.7 L360 781.6 L360.9 782.3 L361.8 783 L362.8 783.6 L364 784.1 L365.5 784.6 L367.3 785.1 L369.3 785.5 L371.4 785.9 L373.6 786.2 L376.1 786.4 L378.9 786.6 L382.1 786.8 L385.8 786.9 L390 787 L394.9 787.1 L400.4 787 L406.4 787 L412.8 786.9 L419.5 786.8 L426.3 786.7 L433.2 786.6 L440 786.5 L447.2 786.4 L455.2 786.4 L463.5 786.3 L471.8 786.2 L479.7 786.2 L486.8 786.1 L492.8 786 L497.3 786" fill="none" stroke="#7D00FF" stroke-width="3" stroke-linejoin="round" stroke-linecap="butt" />
<line x1="350.9" y1="537.8" x2="309.8" y2="571.2" stroke="#000" stroke-width="2"/>
<path d="M302.8 576.9 L308.7 568.3 L312.5 572.9 Z" fill="#000"/>
<line x1="217.6" y1="658.9" x2="253" y2="678.3" stroke="#000" stroke-width="2.2"/>
<path d="M260.9 682.6 L250.7 680.4 L253.6 675.2 Z" fill="#000"/>
<line x1="330.5" y1="653" x2="290" y2="685.5" stroke="#000" stroke-width="2.2"/>
<path d="M283 691.1 L288.9 682.5 L292.7 687.2 Z" fill="#000"/>
<text transform="translate(335.1 533.6) scale(1.018 0.945)" font-size="18" text-anchor="start" fill="#000">-OH</text>
<text transform="translate(331.6 648.4) scale(1.018 0.945)" font-size="18" text-anchor="start" fill="#000">C-O-C</text>
<text transform="translate(221.5 652.4) scale(1.018 0.945)" font-size="18" text-anchor="end" fill="#000">C=O</text>
<rect x="61.5" y="459.5" width="436" height="352" fill="none" stroke="#000" stroke-width="3"/>
<line x1="206.8" y1="810.1" x2="206.8" y2="804.4" stroke="#000" stroke-width="3.1"/>
<line x1="352.2" y1="810.1" x2="352.2" y2="804.4" stroke="#000" stroke-width="3.1"/>
<line x1="134.2" y1="810.1" x2="134.2" y2="808" stroke="#000" stroke-width="3.1"/>
<line x1="279.5" y1="810.1" x2="279.5" y2="808" stroke="#000" stroke-width="3.1"/>
<line x1="424.8" y1="810.1" x2="424.8" y2="808" stroke="#000" stroke-width="3.1"/>
<text x="61" y="834.1" font-size="21" text-anchor="middle" fill="#000" >525</text>
<text x="206.3" y="834.1" font-size="21" text-anchor="middle" fill="#000" >530</text>
<text x="351.7" y="834.1" font-size="21" text-anchor="middle" fill="#000" >535</text>
<text x="497" y="834.1" font-size="21" text-anchor="middle" fill="#000" >540</text>
<text x="279.8" y="864.2" font-size="30" text-anchor="middle" fill="#000" >Binding energy (eV)</text>
<text x="50" y="643.7" font-size="30" text-anchor="middle" fill="#000" transform="rotate(-90 50 643.7)" >Intensity (a.u.)</text>
<text x="10.9" y="482.6" font-size="35" text-anchor="start" fill="#000" >(d)</text>
<text transform="translate(90.3 493.8) scale(1.018 0.945)" font-size="18" text-anchor="start" fill="#000">O 1s of CA</text>
</g>
<g id="panel-e">
<path d="M664 784.4 L665 784.4 L666 784.3 L667 784.3 L668 784.2 L669 784.1 L670 784.1 L671 784 L672 783.9 L673 783.8 L674 783.6 L675 783.5 L676 783.4 L677 783.2 L678 783 L679 782.8 L680 782.6 L681 782.3 L682 782 L683 781.8 L684 781.5 L685 781.2 L686 780.8 L687 780.5 L688 780.2 L689 779.9 L690 779.5 L691 779.2 L692 778.9 L693 778.6 L694 778.4 L695 778.1 L696 777.9 L697 777.8 L698 777.6 L699 777.5 L700 777.5 L701 777.5 L702 777.5 L703 777.6 L704 777.7 L705 777.9 L706 778 L707 778.2 L708 778.5 L709 778.7 L710 779 L711 779.3 L712 779.5 L713 779.8 L714 780.1 L715 780.3 L716 780.6 L717 780.8 L718 781.1 L719 781.3 L720 781.5 L721 781.6 L722 781.8 L723 781.9 L724 782 L725 782.1 L726 782.2 L727 782.3 L728 782.4 L729 782.4 L730 782.4 L731 782.5 L732 782.5 L733 782.5 L734 782.5 L735 782.5 L736 782.5 L737 782.4 L738 782.4 L739 782.4 L740 782.4 L740 782.4 L664 784.5 Z" fill="url(#g4)" stroke="none"/>
<path d="M664 784.4 L665 784.4 L666 784.3 L667 784.3 L668 784.2 L669 784.1 L670 784.1 L671 784 L672 783.9 L673 783.8 L674 783.6 L675 783.5 L676 783.4 L677 783.2 L678 783 L679 782.8 L680 782.6 L681 782.3 L682 782 L683 781.8 L684 781.5 L685 781.2 L686 780.8 L687 780.5 L688 780.2 L689 779.9 L690 779.5 L691 779.2 L692 778.9 L693 778.6 L694 778.4 L695 778.1 L696 777.9 L697 777.8 L698 777.6 L699 777.5 L700 777.5 L701 777.5 L702 777.5 L703 777.6 L704 777.7 L705 777.9 L706 778 L707 778.2 L708 778.5 L709 778.7 L710 779 L711 779.3 L712 779.5 L713 779.8 L714 780.1 L715 780.3 L716 780.6 L717 780.8 L718 781.1 L719 781.3 L720 781.5 L721 781.6 L722 781.8 L723 781.9 L724 782 L725 782.1 L726 782.2 L727 782.3 L728 782.4 L729 782.4 L730 782.4 L731 782.5 L732 782.5 L733 782.5 L734 782.5 L735 782.5 L736 782.5 L737 782.4 L738 782.4 L739 782.4 L740 782.4" fill="none" stroke="#FF4040" stroke-width="1.6" stroke-linejoin="round"/>
<path d="M650 784.6 L651 784.6 L652 784.6 L653 784.6 L654 784.5 L655 784.5 L656 784.5 L657 784.5 L658 784.5 L659 784.5 L660 784.5 L661 784.4 L662 784.4 L663 784.4 L664 784.3 L665 784.3 L666 784.2 L667 784.2 L668 784.1 L669 784.1 L670 784 L671 783.9 L672 783.9 L673 783.8 L674 783.7 L675 783.6 L676 783.5 L677 783.4 L678 783.3 L679 783.2 L680 783.1 L681 783 L682 782.8 L683 782.7 L684 782.5 L685 782.3 L686 782.2 L687 782 L688 781.7 L689 781.5 L690 781.3 L691 781 L692 780.7 L693 780.4 L694 780 L695 779.6 L696 779.2 L697 778.8 L698 778.3 L699 777.8 L700 777.3 L701 776.7 L702 776.1 L703 775.4 L704 774.6 L705 773.8 L706 773 L707 772.1 L708 771.1 L709 770 L710 768.9 L711 767.7 L712 766.3 L713 764.9 L714 763.4 L715 761.8 L716 760 L717 758.2 L718 756.2 L719 754 L720 751.7 L721 749.3 L722 746.7 L723 743.9 L724 740.9 L725 737.8 L726 734.4 L727 730.8 L728 727 L729 723 L730 718.7 L731 714.2 L732 709.4 L733 704.4 L734 699.1 L735 693.5 L736 687.7 L737 681.6 L738 675.3 L739 668.8 L740 662 L741 655 L742 647.9 L743 640.6 L744 633.3 L745 625.9 L746 618.6 L747 611.3 L748 604.3 L749 597.5 L750 591.1 L751 585.1 L752 579.7 L753 574.9 L754 570.8 L755 567.6 L756 565.1 L757 563.6 L758 563 L759 563.3 L760 564.6 L761 566.7 L762 569.6 L763 573.3 L764 577.7 L765 582.7 L766 588.3 L767 594.3 L768 600.8 L769 607.5 L770 614.4 L771 621.5 L772 628.6 L773 635.7 L774 642.8 L775 649.8 L776 656.7 L777 663.4 L778 669.9 L779 676.1 L780 682.2 L781 688 L782 693.6 L783 698.9 L784 703.9 L785 708.8 L786 713.3 L787 717.6 L788 721.7 L789 725.6 L790 729.2 L791 732.7 L792 735.9 L793 738.9 L794 741.8 L795 744.5 L796 747 L797 749.3 L798 751.5 L799 753.6 L800 755.5 L801 757.3 L802 759 L803 760.6 L804 762 L805 763.4 L806 764.6 L807 765.8 L808 766.9 L809 767.9 L810 768.9 L811 769.7 L812 770.5 L813 771.3 L814 772 L815 772.6 L816 773.2 L817 773.8 L818 774.3 L819 774.7 L820 775.2 L821 775.6 L822 775.9 L823 776.2 L824 776.5 L825 776.8 L826 777.1 L827 777.3 L828 777.5 L829 777.7 L830 777.9 L831 778 L832 778.2 L833 778.3 L834 778.4 L835 778.5 L836 778.6 L837 778.7 L838 778.8 L839 778.8 L840 778.9 L841 778.9 L842 779 L843 779 L844 779.1 L845 779.1 L846 779.1 L847 779.1 L848 779.1 L849 779.1 L850 779.1 L851 779.1 L852 779.1 L853 779.1 L854 779.1 L855 779.1 L856 779.1 L857 779.1 L858 779.1 L859 779.1 L860 779.1 L860 779.1 L650 784.6 Z" fill="url(#g5)" stroke="none"/>
<path d="M757 563.6 L758 563 L759 563.3 L760 564.6 L761 566.7 L762 569.6 L763 573.3 L764 577.7 L765 582.7 L766 588.3 L767 594.3 L768 600.8 L769 607.5 L770 614.4 L771 621.5 L772 628.6 L773 635.7 L774 642.8 L775 649.8 L776 656.7 L777 663.4 L778 669.9 L779 676.1 L780 682.2 L781 688 L782 693.6 L783 698.9 L784 703.9 L785 708.8 L786 713.3 L787 717.6 L788 721.7 L789 725.6 L790 729.2 L791 732.7 L792 735.9 L793 738.9 L794 741.8 L795 744.5 L796 747 L797 749.3 L798 751.5 L799 753.6 L800 755.5 L801 757.3 L802 759 L803 760.6 L804 762 L805 763.4 L806 764.6 L807 765.8 L808 766.9 L809 767.9 L810 768.9 L811 769.7 L812 770.5 L813 771.3 L814 772 L815 772.6 L816 773.2 L817 773.8 L818 774.3 L819 774.7 L820 775.2 L821 775.6 L822 775.9 L823 776.2 L824 776.5 L825 776.8 L826 777.1 L827 777.3 L828 777.5 L829 777.7 L830 777.9 L831 778 L832 778.2 L833 778.3 L834 778.4 L835 778.5 L836 778.6 L837 778.7 L838 778.8 L839 778.8 L840 778.9 L841 778.9 L842 779 L843 779 L844 779.1 L845 779.1 L846 779.1 L847 779.1 L848 779.1 L849 779.1 L850 779.1 L851 779.1 L852 779.1 L853 779.1 L854 779.1 L855 779.1 L856 779.1 L857 779.1 L858 779.1 L859 779.1 L860 779.1" fill="none" stroke="#FF4040" stroke-width="3" stroke-linejoin="round"/>
<path d="M730 782.7 L731 782.6 L732 782.6 L733 782.6 L734 782.5 L735 782.5 L736 782.4 L737 782.4 L738 782.3 L739 782.3 L740 782.2 L741 782.1 L742 782 L743 781.9 L744 781.8 L745 781.6 L746 781.5 L747 781.3 L748 781.1 L749 780.8 L750 780.5 L751 780.2 L752 779.8 L753 779.3 L754 778.8 L755 778.2 L756 777.5 L757 776.7 L758 775.8 L759 774.8 L760 773.7 L761 772.4 L762 771 L763 769.4 L764 767.7 L765 765.7 L766 763.6 L767 761.2 L768 758.6 L769 755.8 L770 752.8 L771 749.5 L772 746 L773 742.3 L774 738.3 L775 734.1 L776 729.6 L777 725 L778 720.1 L779 715.1 L780 710 L781 704.7 L782 699.3 L783 693.8 L784 688.3 L785 682.8 L786 677.4 L787 672.1 L788 666.9 L789 661.8 L790 657 L791 652.5 L792 648.2 L793 644.3 L794 640.8 L795 637.7 L796 635.1 L797 632.9 L798 631.3 L799 630.1 L800 629.5 L801 629.4 L802 629.9 L803 630.9 L804 632.4 L805 634.4 L806 636.9 L807 639.8 L808 643.2 L809 647 L810 651.1 L811 655.5 L812 660.2 L813 665.2 L814 670.3 L815 675.5 L816 680.9 L817 686.3 L818 691.8 L819 697.2 L820 702.5 L821 707.8 L822 712.9 L823 717.9 L824 722.7 L825 727.4 L826 731.8 L827 736 L828 740 L829 743.7 L830 747.2 L831 750.5 L832 753.5 L833 756.3 L834 758.9 L835 761.2 L836 763.4 L837 765.3 L838 767 L839 768.6 L840 770 L841 771.3 L842 772.4 L843 773.3 L844 774.2 L845 774.9 L846 775.6 L847 776.2 L848 776.6 L849 777.1 L850 777.4 L851 777.7 L852 778 L853 778.2 L854 778.3 L855 778.5 L856 778.6 L857 778.7 L858 778.8 L859 778.8 L860 778.9 L861 778.9 L862 778.9 L863 778.9 L864 778.9 L865 778.9 L866 778.9 L867 778.9 L868 778.9 L869 778.9 L870 778.8 L870 778.9 L730 782.7 Z" fill="url(#g6)" stroke="none"/>
<path d="M730 782.7 L731 782.6 L732 782.6 L733 782.6 L734 782.5 L735 782.5 L736 782.4 L737 782.4 L738 782.3 L739 782.3 L740 782.2 L741 782.1 L742 782 L743 781.9 L744 781.8 L745 781.6 L746 781.5 L747 781.3 L748 781.1 L749 780.8 L750 780.5 L751 780.2 L752 779.8 L753 779.3 L754 778.8 L755 778.2 L756 777.5 L757 776.7 L758 775.8 L759 774.8 L760 773.7 L761 772.4 L762 771 L763 769.4 L764 767.7 L765 765.7 L766 763.6 L767 761.2 L768 758.6 L769 755.8 L770 752.8 L771 749.5 L772 746 L773 742.3 L774 738.3 L775 734.1 L776 729.6 L777 725 L778 720.1 L779 715.1 L780 710 L781 704.7 L782 699.3 L783 693.8 L784 688.3 L785 682.8 L786 677.4 L787 672.1 L788 666.9 L789 661.8 L790 657 L791 652.5 L792 648.2 L793 644.3 L794 640.8 L795 637.7 L796 635.1 L797 632.9 L798 631.3 L799 630.1 L800 629.5 L801 629.4 L802 629.9 L803 630.9 L804 632.4 L805 634.4 L806 636.9 L807 639.8 L808 643.2 L809 647 L810 651.1 L811 655.5 L812 660.2 L813 665.2 L814 670.3 L815 675.5 L816 680.9 L817 686.3 L818 691.8 L819 697.2 L820 702.5 L821 707.8 L822 712.9 L823 717.9 L824 722.7 L825 727.4 L826 731.8 L827 736 L828 740 L829 743.7 L830 747.2 L831 750.5 L832 753.5 L833 756.3 L834 758.9 L835 761.2 L836 763.4 L837 765.3 L838 767 L839 768.6 L840 770 L841 771.3 L842 772.4 L843 773.3 L844 774.2 L845 774.9 L846 775.6 L847 776.2 L848 776.6 L849 777.1 L850 777.4 L851 777.7 L852 778 L853 778.2 L854 778.3 L855 778.5 L856 778.6 L857 778.7 L858 778.8 L859 778.8 L860 778.9 L861 778.9 L862 778.9 L863 778.9 L864 778.9 L865 778.9 L866 778.9 L867 778.9 L868 778.9 L869 778.9 L870 778.8" fill="none" stroke="#1E46FF" stroke-width="3" stroke-linejoin="round"/>
<path d="M772 781.5 L773 781.5 L774 781.5 L775 781.5 L776 781.4 L777 781.4 L778 781.4 L779 781.3 L780 781.3 L781 781.2 L782 781.2 L783 781.2 L784 781.1 L785 781.1 L786 781 L787 780.9 L788 780.9 L789 780.8 L790 780.7 L791 780.6 L792 780.4 L793 780.3 L794 780.1 L795 780 L796 779.8 L797 779.5 L798 779.3 L799 779 L800 778.7 L801 778.3 L802 777.9 L803 777.5 L804 777 L805 776.6 L806 776 L807 775.5 L808 774.9 L809 774.3 L810 773.6 L811 773 L812 772.3 L813 771.7 L814 771 L815 770.3 L816 769.7 L817 769 L818 768.5 L819 767.9 L820 767.4 L821 767 L822 766.6 L823 766.2 L824 766 L825 765.8 L826 765.7 L827 765.7 L828 765.8 L829 765.9 L830 766.1 L831 766.4 L832 766.7 L833 767.1 L834 767.6 L835 768.1 L836 768.6 L837 769.2 L838 769.8 L839 770.4 L840 771 L841 771.7 L842 772.3 L843 772.9 L844 773.4 L845 774 L846 774.5 L847 775 L848 775.5 L849 775.9 L850 776.3 L851 776.7 L852 777 L853 777.3 L854 777.5 L855 777.8 L856 778 L857 778.1 L858 778.3 L859 778.4 L860 778.5 L861 778.6 L862 778.6 L863 778.7 L864 778.7 L865 778.8 L866 778.8 L867 778.8 L868 778.8 L869 778.8 L870 778.8 L871 778.8 L872 778.8 L873 778.8 L874 778.7 L874 778.8 L772 781.5 Z" fill="url(#g7)" stroke="none"/>
<path d="M772 781.5 L773 781.5 L774 781.5 L775 781.5 L776 781.4 L777 781.4 L778 781.4 L779 781.3 L780 781.3 L781 781.2 L782 781.2 L783 781.2 L784 781.1 L785 781.1 L786 781 L787 780.9 L788 780.9 L789 780.8 L790 780.7 L791 780.6 L792 780.4 L793 780.3 L794 780.1 L795 780 L796 779.8 L797 779.5 L798 779.3 L799 779 L800 778.7 L801 778.3 L802 777.9 L803 777.5 L804 777 L805 776.6 L806 776 L807 775.5 L808 774.9 L809 774.3 L810 773.6 L811 773 L812 772.3 L813 771.7 L814 771 L815 770.3 L816 769.7 L817 769 L818 768.5 L819 767.9 L820 767.4 L821 767 L822 766.6 L823 766.2 L824 766 L825 765.8 L826 765.7 L827 765.7 L828 765.8 L829 765.9 L830 766.1 L831 766.4 L832 766.7 L833 767.1 L834 767.6 L835 768.1 L836 768.6 L837 769.2 L838 769.8 L839 770.4 L840 771 L841 771.7 L842 772.3 L843 772.9 L844 773.4 L845 774 L846 774.5 L847 775 L848 775.5 L849 775.9 L850 776.3 L851 776.7 L852 777 L853 777.3 L854 777.5 L855 777.8 L856 778 L857 778.1 L858 778.3 L859 778.4 L860 778.5 L861 778.6 L862 778.6 L863 778.7 L864 778.7 L865 778.8 L866 778.8 L867 778.8 L868 778.8 L869 778.8 L870 778.8 L871 778.8 L872 778.8 L873 778.8 L874 778.7" fill="none" stroke="#3CBE6E" stroke-width="2.8" stroke-linejoin="round"/>
<path d="M670 784.5 L880 778.7 L905 780" fill="none" stroke="#FF00FF" stroke-width="3.2" stroke-linejoin="round" stroke-linecap="butt" />
<g fill="none" stroke="#b9b9b9" stroke-width="1"><circle cx="561.7" cy="784.4" r="3.3"/><circle cx="564.6" cy="784.4" r="3.3"/><circle cx="567.5" cy="784.4" r="3.3"/><circle cx="570.4" cy="784.4" r="3.3"/><circle cx="573.3" cy="784.4" r="3.3"/><circle cx="576.2" cy="784.4" r="3.3"/><circle cx="579.1" cy="784.4" r="3.3"/><circle cx="582" cy="784.4" r="3.3"/><circle cx="584.9" cy="784.4" r="3.3"/><circle cx="587.8" cy="784.4" r="3.3"/><circle cx="590.7" cy="784.4" r="3.3"/><circle cx="593.6" cy="784.4" r="3.3"/><circle cx="596.5" cy="784.4" r="3.3"/><circle cx="599.4" cy="784.4" r="3.3"/><circle cx="602.3" cy="784.4" r="3.3"/><circle cx="605.2" cy="784.4" r="3.3"/><circle cx="608.1" cy="784.4" r="3.3"/><circle cx="611" cy="784.4" r="3.3"/><circle cx="613.9" cy="784.4" r="3.3"/><circle cx="616.8" cy="784.4" r="3.3"/><circle cx="619.7" cy="784.4" r="3.3"/><circle cx="622.6" cy="784.4" r="3.3"/><circle cx="625.5" cy="784.4" r="3.3"/><circle cx="628.4" cy="784.4" r="3.3"/><circle cx="631.3" cy="784.4" r="3.3"/><circle cx="634.2" cy="784.4" r="3.3"/><circle cx="637.1" cy="784.4" r="3.3"/><circle cx="640" cy="784.4" r="3.3"/><circle cx="642.9" cy="784.4" r="3.3"/><circle cx="645.8" cy="784.4" r="3.3"/><circle cx="648.7" cy="784.4" r="3.3"/><circle cx="651.6" cy="784.4" r="3.3"/><circle cx="654.5" cy="784.4" r="3.3"/><circle cx="657.4" cy="784.4" r="3.3"/><circle cx="660.3" cy="784.4" r="3.3"/><circle cx="663.2" cy="784.3" r="3.3"/><circle cx="666.1" cy="784.2" r="3.3"/><circle cx="669" cy="784.1" r="3.3"/><circle cx="671.9" cy="783.9" r="3.3"/><circle cx="674.8" cy="783.6" r="3.3"/><circle cx="677.7" cy="783.2" r="3.3"/><circle cx="680.6" cy="782.6" r="3.3"/><circle cx="683.5" cy="781.8" r="3.3"/><circle cx="686.4" cy="781" r="3.3"/><circle cx="689.3" cy="780" r="3.3"/><circle cx="692.2" cy="779.1" r="3.3"/><circle cx="695.1" cy="778.2" r="3.3"/><circle cx="698" cy="777.2" r="3.3"/><circle cx="700.9" cy="776.3" r="3.3"/><circle cx="703.8" cy="775.2" r="3.3"/><circle cx="706.7" cy="774" r="3.3"/><circle cx="709.6" cy="772.5" r="3.3"/><circle cx="712.5" cy="769.9" r="3.3"/><circle cx="715.4" cy="765.8" r="3.3"/><circle cx="718.3" cy="759.9" r="3.3"/><circle cx="721.2" cy="752.1" r="3.3"/><circle cx="724.1" cy="740.4" r="3.3"/><circle cx="727" cy="725.8" r="3.3"/><circle cx="729.9" cy="708.5" r="3.3"/><circle cx="732.8" cy="691.3" r="3.3"/><circle cx="735.7" cy="671.9" r="3.3"/><circle cx="738.6" cy="651.8" r="3.3"/><circle cx="741.5" cy="632.9" r="3.3"/><circle cx="744.4" cy="613.2" r="3.3"/><circle cx="747.3" cy="593.4" r="3.3"/><circle cx="750.2" cy="574.7" r="3.3"/><circle cx="753.1" cy="562.3" r="3.3"/><circle cx="756" cy="555.7" r="3.3"/><circle cx="758.9" cy="554.8" r="3.3"/><circle cx="761.8" cy="557.9" r="3.3"/><circle cx="764.7" cy="566.4" r="3.3"/><circle cx="767.6" cy="577.9" r="3.3"/><circle cx="770.5" cy="589.2" r="3.3"/><circle cx="773.4" cy="599.1" r="3.3"/><circle cx="776.3" cy="608" r="3.3"/><circle cx="779.2" cy="613.7" r="3.3"/><circle cx="782.1" cy="617.2" r="3.3"/><circle cx="785" cy="618.3" r="3.3"/><circle cx="787.9" cy="616.9" r="3.3"/><circle cx="790.8" cy="614.6" r="3.3"/><circle cx="793.7" cy="612.5" r="3.3"/><circle cx="796.6" cy="611" r="3.3"/><circle cx="799.5" cy="612" r="3.3"/><circle cx="802.4" cy="616" r="3.3"/><circle cx="805.3" cy="623.9" r="3.3"/><circle cx="808.2" cy="634" r="3.3"/><circle cx="811.1" cy="645.2" r="3.3"/><circle cx="814" cy="657.7" r="3.3"/><circle cx="816.9" cy="670.9" r="3.3"/><circle cx="819.8" cy="683.9" r="3.3"/><circle cx="822.7" cy="697.3" r="3.3"/><circle cx="825.6" cy="710.4" r="3.3"/><circle cx="828.5" cy="723.4" r="3.3"/><circle cx="831.4" cy="735.6" r="3.3"/><circle cx="834.3" cy="745.3" r="3.3"/><circle cx="837.2" cy="752.7" r="3.3"/><circle cx="840.1" cy="758.3" r="3.3"/><circle cx="843" cy="762.8" r="3.3"/><circle cx="845.9" cy="766.8" r="3.3"/><circle cx="848.8" cy="770.3" r="3.3"/><circle cx="851.7" cy="772.9" r="3.3"/><circle cx="854.6" cy="774.8" r="3.3"/><circle cx="857.5" cy="776.3" r="3.3"/><circle cx="860.4" cy="777.4" r="3.3"/><circle cx="863.3" cy="778.2" r="3.3"/><circle cx="866.2" cy="778.7" r="3.3"/><circle cx="869.1" cy="779.2" r="3.3"/><circle cx="872" cy="779.5" r="3.3"/><circle cx="874.9" cy="779.8" r="3.3"/><circle cx="877.8" cy="780" r="3.3"/><circle cx="880.7" cy="780.1" r="3.3"/><circle cx="883.6" cy="780.3" r="3.3"/><circle cx="886.5" cy="780.5" r="3.3"/><circle cx="889.4" cy="780.7" r="3.3"/><circle cx="892.3" cy="780.8" r="3.3"/><circle cx="895.2" cy="780.9" r="3.3"/><circle cx="898.1" cy="781" r="3.3"/><circle cx="901" cy="781" r="3.3"/><circle cx="903.9" cy="781" r="3.3"/><circle cx="906.8" cy="781" r="3.3"/><circle cx="909.7" cy="780.9" r="3.3"/><circle cx="912.6" cy="780.9" r="3.3"/><circle cx="915.5" cy="780.8" r="3.3"/><circle cx="918.4" cy="780.8" r="3.3"/><circle cx="921.3" cy="780.7" r="3.3"/><circle cx="924.2" cy="780.6" r="3.3"/><circle cx="927.1" cy="780.6" r="3.3"/><circle cx="930" cy="780.5" r="3.3"/><circle cx="932.9" cy="780.4" r="3.3"/><circle cx="935.8" cy="780.3" r="3.3"/><circle cx="938.7" cy="780.2" r="3.3"/><circle cx="941.6" cy="780.2" r="3.3"/><circle cx="944.5" cy="780.1" r="3.3"/><circle cx="947.4" cy="780" r="3.3"/><circle cx="950.3" cy="779.9" r="3.3"/><circle cx="953.2" cy="779.8" r="3.3"/><circle cx="956.1" cy="779.7" r="3.3"/><circle cx="959" cy="779.6" r="3.3"/><circle cx="961.9" cy="779.5" r="3.3"/><circle cx="964.8" cy="779.4" r="3.3"/><circle cx="967.7" cy="779.3" r="3.3"/><circle cx="970.6" cy="779.2" r="3.3"/><circle cx="973.5" cy="779.1" r="3.3"/><circle cx="976.4" cy="779" r="3.3"/><circle cx="979.3" cy="778.9" r="3.3"/><circle cx="982.2" cy="778.8" r="3.3"/><circle cx="985.1" cy="778.7" r="3.3"/><circle cx="988" cy="778.6" r="3.3"/></g>
<path d="M558 784.4 L561.3 784.4 L565.6 784.4 L570.8 784.4 L576.5 784.4 L582.6 784.4 L588.7 784.4 L594.6 784.4 L600 784.4 L605.2 784.4 L610.4 784.4 L615.7 784.4 L620.9 784.4 L626 784.4 L631 784.4 L635.6 784.4 L640 784.4 L644.1 784.4 L648 784.4 L651.7 784.4 L655.2 784.4 L658.5 784.4 L661.5 784.3 L664.4 784.3 L667 784.2 L669.3 784.1 L671.2 784 L672.9 783.8 L674.4 783.7 L675.7 783.5 L677.1 783.3 L678.5 783 L680 782.7 L681.6 782.3 L683.3 781.9 L684.9 781.4 L686.5 780.9 L688.2 780.4 L689.8 779.9 L691.5 779.3 L693.1 778.8 L694.8 778.3 L696.6 777.7 L698.3 777.1 L700.1 776.5 L701.8 776 L703.5 775.4 L705 774.8 L706.3 774.2 L707.4 773.7 L708.4 773.2 L709.3 772.7 L710 772.2 L710.7 771.7 L711.4 771.1 L712.1 770.4 L712.8 769.6 L713.5 768.7 L714.2 767.7 L714.9 766.6 L715.6 765.5 L716.2 764.3 L716.9 763 L717.5 761.7 L718.1 760.4 L718.7 759 L719.2 757.7 L719.8 756.3 L720.3 754.9 L720.8 753.3 L721.3 751.7 L721.9 749.8 L722.4 747.8 L723 745.5 L723.5 743.1 L724.1 740.4 L724.7 737.6 L725.3 734.8 L725.8 731.9 L726.4 729 L726.9 726.3 L727.4 723.6 L727.9 720.9 L728.3 718.2 L728.8 715.5 L729.2 712.9 L729.6 710.2 L730.1 707.5 L730.5 704.8 L731 702.1 L731.4 699.4 L731.9 696.7 L732.3 694.1 L732.8 691.4 L733.2 688.7 L733.7 686 L734.1 683.3 L734.5 680.6 L734.9 677.9 L735.3 675.2 L735.6 672.5 L736 669.8 L736.3 667.1 L736.7 664.4 L737.1 661.7 L737.5 659 L737.9 656.3 L738.3 653.6 L738.7 650.9 L739.2 648.3 L739.6 645.6 L740 642.9 L740.4 640.2 L740.8 637.5 L741.2 634.9 L741.6 632.2 L742 629.6 L742.4 626.9 L742.8 624.2 L743.2 621.5 L743.6 618.7 L744 615.9 L744.4 613 L744.8 610.1 L745.3 607.2 L745.7 604.3 L746.1 601.3 L746.6 598.4 L747 595.4 L747.5 592.4 L747.9 589.2 L748.4 586 L748.9 582.8 L749.4 579.7 L749.9 576.7 L750.3 573.9 L750.8 571.5 L751.3 569.3 L751.7 567.4 L752.1 565.6 L752.6 564 L753 562.6 L753.4 561.3 L753.9 560.1 L754.3 559 L754.7 558 L755.2 557.1 L755.6 556.3 L756 555.7 L756.5 555.2 L756.9 554.8 L757.4 554.6 L757.9 554.5 L758.4 554.6 L759 554.8 L759.6 555.2 L760.1 555.7 L760.7 556.3 L761.3 557.1 L761.9 558 L762.4 559 L762.9 560.2 L763.4 561.5 L763.8 563 L764.3 564.6 L764.7 566.3 L765.1 568.1 L765.6 569.8 L766 571.5 L766.5 573.2 L766.9 575 L767.4 576.8 L767.8 578.7 L768.2 580.6 L768.7 582.4 L769.1 584.2 L769.6 585.9 L770.1 587.6 L770.5 589.2 L771 590.8 L771.4 592.4 L771.9 593.9 L772.3 595.4 L772.8 596.9 L773.2 598.4 L773.6 599.9 L774.1 601.3 L774.5 602.7 L774.9 604.1 L775.4 605.5 L775.8 606.8 L776.3 608 L776.8 609.2 L777.3 610.3 L777.9 611.4 L778.4 612.4 L779 613.4 L779.6 614.3 L780.2 615.1 L780.7 615.8 L781.3 616.4 L781.8 616.9 L782.4 617.4 L782.9 617.7 L783.4 618 L783.9 618.2 L784.5 618.3 L785.1 618.3 L785.7 618.2 L786.4 617.9 L787.2 617.5 L788 616.9 L788.8 616.2 L789.6 615.5 L790.5 614.8 L791.3 614.2 L792 613.7 L792.7 613.2 L793.4 612.8 L794.1 612.3 L794.7 611.9 L795.4 611.5 L796 611.2 L796.6 611 L797.2 611 L797.8 611.1 L798.4 611.3 L798.9 611.5 L799.5 611.9 L800 612.4 L800.5 612.9 L801 613.6 L801.5 614.3 L802 615.1 L802.4 616.1 L802.9 617.1 L803.3 618.2 L803.8 619.4 L804.2 620.7 L804.7 622 L805.1 623.3 L805.6 624.7 L806 626.2 L806.5 627.7 L806.9 629.3 L807.4 630.9 L807.8 632.5 L808.2 634.2 L808.7 635.9 L809.2 637.6 L809.6 639.3 L810.1 641.1 L810.5 642.8 L811 644.6 L811.4 646.5 L811.9 648.3 L812.3 650.2 L812.8 652.1 L813.2 654.1 L813.6 656.1 L814.1 658.2 L814.5 660.2 L815 662.3 L815.4 664.4 L815.9 666.4 L816.4 668.4 L816.8 670.4 L817.3 672.4 L817.7 674.4 L818.2 676.5 L818.6 678.5 L819.1 680.5 L819.5 682.5 L819.9 684.5 L820.4 686.5 L820.8 688.5 L821.2 690.5 L821.7 692.5 L822.1 694.5 L822.5 696.6 L823 698.7 L823.5 700.9 L824 703.1 L824.5 705.3 L825 707.5 L825.5 709.8 L826 712.1 L826.5 714.4 L827 716.6 L827.5 718.9 L828 721.2 L828.5 723.5 L829 725.8 L829.5 728 L830 730.3 L830.6 732.4 L831.1 734.5 L831.6 736.5 L832.2 738.4 L832.7 740.3 L833.3 742.1 L833.8 743.9 L834.4 745.6 L835 747.3 L835.6 748.9 L836.2 750.4 L836.8 751.9 L837.4 753.2 L838.1 754.6 L838.7 755.9 L839.4 757.1 L840.2 758.5 L841 759.8 L841.9 761.2 L842.9 762.7 L844 764.2 L845 765.7 L846.2 767.2 L847.3 768.5 L848.4 769.8 L849.4 770.9 L850.4 771.9 L851.4 772.7 L852.3 773.4 L853.3 774.1 L854.3 774.7 L855.2 775.2 L856.3 775.7 L857.3 776.2 L858.4 776.7 L859.4 777.1 L860.5 777.4 L861.5 777.8 L862.7 778 L863.9 778.3 L865.1 778.6 L866.5 778.8 L867.9 779 L869.4 779.2 L870.9 779.4 L872.5 779.6 L874.2 779.7 L876 779.8 L877.9 780 L880 780.1 L882.1 780.2 L884.3 780.4 L886.5 780.5 L888.8 780.7 L891.3 780.8 L894.1 780.9 L897.3 781 L900.8 781 L904.7 781 L909 780.9 L913.5 780.9 L918.4 780.8 L923.5 780.6 L928.8 780.5 L934.3 780.4 L940 780.2 L946.4 780 L953.6 779.8 L961.3 779.5 L969.1 779.3 L976.6 779 L983.4 778.7 L989.1 778.5 L993.3 778.4" fill="none" stroke="#7D00FF" stroke-width="3" stroke-linejoin="round" stroke-linecap="butt" />
<line x1="774.3" y1="534.4" x2="763.1" y2="553.4" stroke="#000" stroke-width="1.6"/>
<path d="M758.5 561.1 L761.2 551.1 L766 553.9 Z" fill="#000"/>
<line x1="816.6" y1="600.5" x2="805.1" y2="620.4" stroke="#000" stroke-width="1.6"/>
<path d="M800.6 628.2 L803.2 618.1 L808 620.9 Z" fill="#000"/>
<line x1="844.8" y1="738.1" x2="833.6" y2="757.2" stroke="#000" stroke-width="1.6"/>
<path d="M829 765 L831.7 755 L836.5 757.8 Z" fill="#000"/>
<text transform="translate(756.8 529.2) scale(1.018 0.945)" font-size="17.5" text-anchor="start" fill="#000">C=O</text>
<text transform="translate(793.6 594.3) scale(1.018 0.945)" font-size="17.5" text-anchor="start" fill="#000">C-O-C</text>
<text transform="translate(836.3 731.5) scale(1.018 0.945)" font-size="17.5" text-anchor="start" fill="#000">H<tspan font-size="11.5" dy="4.5">2</tspan><tspan dy="-4.5">O</tspan></text>
<rect x="557.7" y="458.5" width="435.9" height="352" fill="none" stroke="#000" stroke-width="3"/>
<line x1="703" y1="809.1" x2="703" y2="803.4" stroke="#000" stroke-width="3.1"/>
<line x1="848.3" y1="809.1" x2="848.3" y2="803.4" stroke="#000" stroke-width="3.1"/>
<line x1="630.4" y1="809.1" x2="630.4" y2="807" stroke="#000" stroke-width="3.1"/>
<line x1="775.7" y1="809.1" x2="775.7" y2="807" stroke="#000" stroke-width="3.1"/>
<line x1="921" y1="809.1" x2="921" y2="807" stroke="#000" stroke-width="3.1"/>
<text x="557.2" y="833.5" font-size="21" text-anchor="middle" fill="#000" >525</text>
<text x="702.5" y="833.5" font-size="21" text-anchor="middle" fill="#000" >530</text>
<text x="847.8" y="833.5" font-size="21" text-anchor="middle" fill="#000" >535</text>
<text x="993.1" y="833.5" font-size="21" text-anchor="middle" fill="#000" >540</text>
<text x="776" y="860.2" font-size="30" text-anchor="middle" fill="#000" >Binding energy (eV)</text>
<text x="546.5" y="633.2" font-size="30" text-anchor="middle" fill="#000" transform="rotate(-90 546.5 633.2)" >Intensity (a.u.)</text>
<text x="510.2" y="483.1" font-size="35" text-anchor="start" fill="#000" >(e)</text>
<text transform="translate(586.1 499.8) scale(1.018 0.945)" font-size="18" text-anchor="start" fill="#000">O 1s of PMMA</text>
</g>
<g id="panel-f">
<path d="M1155 786.2 L1156 786.2 L1157 786.1 L1158 786.1 L1159 786.1 L1160 786.1 L1161 786 L1162 786 L1163 785.9 L1164 785.9 L1165 785.8 L1166 785.7 L1167 785.6 L1168 785.5 L1169 785.4 L1170 785.3 L1171 785.1 L1172 784.9 L1173 784.7 L1174 784.5 L1175 784.3 L1176 784 L1177 783.7 L1178 783.4 L1179 783.1 L1180 782.8 L1181 782.4 L1182 782.1 L1183 781.7 L1184 781.4 L1185 781 L1186 780.7 L1187 780.4 L1188 780.2 L1189 780 L1190 779.8 L1191 779.6 L1192 779.5 L1193 779.5 L1194 779.5 L1195 779.6 L1196 779.7 L1197 779.8 L1198 780 L1199 780.2 L1200 780.5 L1201 780.8 L1202 781.1 L1203 781.4 L1204 781.7 L1205 782 L1206 782.3 L1207 782.6 L1208 782.9 L1209 783.2 L1210 783.4 L1211 783.6 L1212 783.8 L1213 784 L1214 784.2 L1215 784.3 L1216 784.4 L1217 784.5 L1218 784.6 L1219 784.7 L1220 784.8 L1221 784.8 L1222 784.8 L1223 784.9 L1224 784.9 L1225 784.9 L1226 784.9 L1227 784.9 L1228 784.9 L1229 784.9 L1230 784.9 L1231 784.8 L1232 784.8 L1233 784.8 L1234 784.8 L1235 784.8 L1235 784.8 L1155 786.2 Z" fill="url(#g8)" stroke="none"/>
<path d="M1155 786.2 L1156 786.2 L1157 786.1 L1158 786.1 L1159 786.1 L1160 786.1 L1161 786 L1162 786 L1163 785.9 L1164 785.9 L1165 785.8 L1166 785.7 L1167 785.6 L1168 785.5 L1169 785.4 L1170 785.3 L1171 785.1 L1172 784.9 L1173 784.7 L1174 784.5 L1175 784.3 L1176 784 L1177 783.7 L1178 783.4 L1179 783.1 L1180 782.8 L1181 782.4 L1182 782.1 L1183 781.7 L1184 781.4 L1185 781 L1186 780.7 L1187 780.4 L1188 780.2 L1189 780 L1190 779.8 L1191 779.6 L1192 779.5 L1193 779.5 L1194 779.5 L1195 779.6 L1196 779.7 L1197 779.8 L1198 780 L1199 780.2 L1200 780.5 L1201 780.8 L1202 781.1 L1203 781.4 L1204 781.7 L1205 782 L1206 782.3 L1207 782.6 L1208 782.9 L1209 783.2 L1210 783.4 L1211 783.6 L1212 783.8 L1213 784 L1214 784.2 L1215 784.3 L1216 784.4 L1217 784.5 L1218 784.6 L1219 784.7 L1220 784.8 L1221 784.8 L1222 784.8 L1223 784.9 L1224 784.9 L1225 784.9 L1226 784.9 L1227 784.9 L1228 784.9 L1229 784.9 L1230 784.9 L1231 784.8 L1232 784.8 L1233 784.8 L1234 784.8 L1235 784.8" fill="none" stroke="#FF4040" stroke-width="1.6" stroke-linejoin="round"/>
<path d="M1180 785.5 L1181 785.5 L1182 785.4 L1183 785.3 L1184 785.2 L1185 785.1 L1186 785 L1187 784.8 L1188 784.7 L1189 784.5 L1190 784.3 L1191 784.1 L1192 783.8 L1193 783.5 L1194 783.2 L1195 782.8 L1196 782.4 L1197 781.9 L1198 781.3 L1199 780.7 L1200 780 L1201 779.2 L1202 778.4 L1203 777.4 L1204 776.3 L1205 775.1 L1206 773.8 L1207 772.4 L1208 770.8 L1209 769.1 L1210 767.2 L1211 765.1 L1212 762.9 L1213 760.5 L1214 757.9 L1215 755 L1216 752 L1217 748.7 L1218 745.3 L1219 741.6 L1220 737.7 L1221 733.5 L1222 729.2 L1223 724.6 L1224 719.7 L1225 714.7 L1226 709.5 L1227 704.1 L1228 698.4 L1229 692.7 L1230 686.7 L1231 680.7 L1232 674.5 L1233 668.3 L1234 662 L1235 655.6 L1236 649.3 L1237 642.9 L1238 636.7 L1239 630.5 L1240 624.5 L1241 618.6 L1242 612.9 L1243 607.5 L1244 602.3 L1245 597.4 L1246 592.8 L1247 588.6 L1248 584.7 L1249 581.3 L1250 578.3 L1251 575.8 L1252 573.7 L1253 572.2 L1254 571.1 L1255 570.5 L1256 570.4 L1257 571 L1258 572.2 L1259 574 L1260 576.4 L1261 579.3 L1262 582.8 L1263 586.9 L1264 591.4 L1265 596.4 L1266 601.8 L1267 607.6 L1268 613.7 L1269 620 L1270 626.6 L1271 633.4 L1272 640.3 L1273 647.2 L1274 654.3 L1275 661.3 L1276 668.3 L1277 675.2 L1278 682 L1279 688.7 L1280 695.1 L1281 701.4 L1282 707.5 L1283 713.3 L1284 718.9 L1285 724.2 L1286 729.2 L1287 734 L1288 738.4 L1289 742.6 L1290 746.5 L1291 750.1 L1292 753.5 L1293 756.6 L1294 759.4 L1295 762 L1296 764.4 L1297 766.6 L1298 768.5 L1299 770.3 L1300 771.8 L1301 773.3 L1302 774.5 L1303 775.6 L1304 776.6 L1305 777.5 L1306 778.3 L1307 778.9 L1308 779.5 L1309 780 L1310 780.5 L1311 780.8 L1312 781.2 L1313 781.4 L1314 781.7 L1315 781.8 L1316 782 L1317 782.1 L1318 782.2 L1319 782.3 L1320 782.4 L1321 782.4 L1322 782.5 L1323 782.5 L1324 782.5 L1325 782.5 L1326 782.5 L1327 782.5 L1328 782.5 L1329 782.5 L1330 782.5 L1330 782.5 L1180 785.8 Z" fill="url(#g9)" stroke="none"/>
<path d="M1254 571.1 L1255 570.5 L1256 570.4 L1257 571 L1258 572.2 L1259 574 L1260 576.4 L1261 579.3 L1262 582.8 L1263 586.9 L1264 591.4 L1265 596.4 L1266 601.8 L1267 607.6 L1268 613.7 L1269 620 L1270 626.6 L1271 633.4 L1272 640.3 L1273 647.2 L1274 654.3 L1275 661.3 L1276 668.3 L1277 675.2 L1278 682 L1279 688.7 L1280 695.1 L1281 701.4 L1282 707.5 L1283 713.3 L1284 718.9 L1285 724.2 L1286 729.2 L1287 734 L1288 738.4 L1289 742.6 L1290 746.5 L1291 750.1 L1292 753.5 L1293 756.6 L1294 759.4 L1295 762 L1296 764.4 L1297 766.6 L1298 768.5 L1299 770.3 L1300 771.8 L1301 773.3 L1302 774.5 L1303 775.6 L1304 776.6 L1305 777.5 L1306 778.3 L1307 778.9 L1308 779.5 L1309 780 L1310 780.5 L1311 780.8 L1312 781.2 L1313 781.4 L1314 781.7 L1315 781.8 L1316 782 L1317 782.1 L1318 782.2 L1319 782.3 L1320 782.4 L1321 782.4 L1322 782.5 L1323 782.5 L1324 782.5 L1325 782.5 L1326 782.5 L1327 782.5 L1328 782.5 L1329 782.5 L1330 782.5" fill="none" stroke="#FF4040" stroke-width="3" stroke-linejoin="round"/>
<path d="M1232 784.8 L1233 784.7 L1234 784.7 L1235 784.6 L1236 784.6 L1237 784.5 L1238 784.5 L1239 784.4 L1240 784.3 L1241 784.2 L1242 784.1 L1243 783.9 L1244 783.7 L1245 783.5 L1246 783.3 L1247 783 L1248 782.6 L1249 782.2 L1250 781.8 L1251 781.2 L1252 780.6 L1253 779.9 L1254 779.1 L1255 778.2 L1256 777.1 L1257 775.9 L1258 774.6 L1259 773 L1260 771.3 L1261 769.4 L1262 767.3 L1263 765 L1264 762.4 L1265 759.6 L1266 756.5 L1267 753.1 L1268 749.5 L1269 745.6 L1270 741.4 L1271 736.9 L1272 732.2 L1273 727.2 L1274 722 L1275 716.5 L1276 710.8 L1277 705 L1278 699 L1279 692.8 L1280 686.6 L1281 680.4 L1282 674.1 L1283 667.9 L1284 661.8 L1285 655.9 L1286 650.2 L1287 644.7 L1288 639.5 L1289 634.7 L1290 630.3 L1291 626.3 L1292 622.8 L1293 619.9 L1294 617.5 L1295 615.7 L1296 614.5 L1297 613.9 L1298 613.9 L1299 614.6 L1300 615.9 L1301 617.9 L1302 620.5 L1303 623.7 L1304 627.4 L1305 631.7 L1306 636.4 L1307 641.5 L1308 646.9 L1309 652.7 L1310 658.7 L1311 664.8 L1312 671.1 L1313 677.5 L1314 683.9 L1315 690.3 L1316 696.6 L1317 702.8 L1318 708.8 L1319 714.6 L1320 720.2 L1321 725.6 L1322 730.7 L1323 735.6 L1324 740.1 L1325 744.3 L1326 748.3 L1327 752 L1328 755.3 L1329 758.4 L1330 761.2 L1331 763.8 L1332 766.1 L1333 768.2 L1334 770 L1335 771.6 L1336 773.1 L1337 774.4 L1338 775.5 L1339 776.5 L1340 777.3 L1341 778 L1342 778.7 L1343 779.2 L1344 779.6 L1345 780 L1346 780.3 L1347 780.6 L1348 780.8 L1349 781 L1350 781.1 L1351 781.3 L1352 781.4 L1353 781.5 L1354 781.6 L1355 781.7 L1356 781.8 L1357 781.9 L1358 781.9 L1359 782 L1360 782 L1361 782 L1362 782.1 L1362 782.1 L1232 784.8 Z" fill="url(#g10)" stroke="none"/>
<path d="M1232 784.8 L1233 784.7 L1234 784.7 L1235 784.6 L1236 784.6 L1237 784.5 L1238 784.5 L1239 784.4 L1240 784.3 L1241 784.2 L1242 784.1 L1243 783.9 L1244 783.7 L1245 783.5 L1246 783.3 L1247 783 L1248 782.6 L1249 782.2 L1250 781.8 L1251 781.2 L1252 780.6 L1253 779.9 L1254 779.1 L1255 778.2 L1256 777.1 L1257 775.9 L1258 774.6 L1259 773 L1260 771.3 L1261 769.4 L1262 767.3 L1263 765 L1264 762.4 L1265 759.6 L1266 756.5 L1267 753.1 L1268 749.5 L1269 745.6 L1270 741.4 L1271 736.9 L1272 732.2 L1273 727.2 L1274 722 L1275 716.5 L1276 710.8 L1277 705 L1278 699 L1279 692.8 L1280 686.6 L1281 680.4 L1282 674.1 L1283 667.9 L1284 661.8 L1285 655.9 L1286 650.2 L1287 644.7 L1288 639.5 L1289 634.7 L1290 630.3 L1291 626.3 L1292 622.8 L1293 619.9 L1294 617.5 L1295 615.7 L1296 614.5 L1297 613.9 L1298 613.9 L1299 614.6 L1300 615.9 L1301 617.9 L1302 620.5 L1303 623.7 L1304 627.4 L1305 631.7 L1306 636.4 L1307 641.5 L1308 646.9 L1309 652.7 L1310 658.7 L1311 664.8 L1312 671.1 L1313 677.5 L1314 683.9 L1315 690.3 L1316 696.6 L1317 702.8 L1318 708.8 L1319 714.6 L1320 720.2 L1321 725.6 L1322 730.7 L1323 735.6 L1324 740.1 L1325 744.3 L1326 748.3 L1327 752 L1328 755.3 L1329 758.4 L1330 761.2 L1331 763.8 L1332 766.1 L1333 768.2 L1334 770 L1335 771.6 L1336 773.1 L1337 774.4 L1338 775.5 L1339 776.5 L1340 777.3 L1341 778 L1342 778.7 L1343 779.2 L1344 779.6 L1345 780 L1346 780.3 L1347 780.6 L1348 780.8 L1349 781 L1350 781.1 L1351 781.3 L1352 781.4 L1353 781.5 L1354 781.6 L1355 781.7 L1356 781.8 L1357 781.9 L1358 781.9 L1359 782 L1360 782 L1361 782 L1362 782.1" fill="none" stroke="#1E46FF" stroke-width="3" stroke-linejoin="round"/>
<path d="M1297 783.6 L1298 783.5 L1299 783.4 L1300 783.4 L1301 783.2 L1302 783.1 L1303 782.8 L1304 782.5 L1305 782.1 L1306 781.5 L1307 780.7 L1308 779.8 L1309 778.7 L1310 777.4 L1311 776 L1312 774.5 L1313 773 L1314 771.6 L1315 770.4 L1316 769.4 L1317 768.9 L1318 768.7 L1319 769 L1320 769.6 L1321 770.6 L1322 771.8 L1323 773.2 L1324 774.7 L1325 776.1 L1326 777.4 L1327 778.6 L1328 779.6 L1329 780.4 L1330 781 L1331 781.4 L1332 781.8 L1333 782 L1334 782.1 L1335 782.2 L1336 782.2 L1337 782.3 L1338 782.2 L1339 782.2 L1339 782.2 L1297 783.6 Z" fill="url(#g11)" stroke="none"/>
<path d="M1297 783.6 L1298 783.5 L1299 783.4 L1300 783.4 L1301 783.2 L1302 783.1 L1303 782.8 L1304 782.5 L1305 782.1 L1306 781.5 L1307 780.7 L1308 779.8 L1309 778.7 L1310 777.4 L1311 776 L1312 774.5 L1313 773 L1314 771.6 L1315 770.4 L1316 769.4 L1317 768.9 L1318 768.7 L1319 769 L1320 769.6 L1321 770.6 L1322 771.8 L1323 773.2 L1324 774.7 L1325 776.1 L1326 777.4 L1327 778.6 L1328 779.6 L1329 780.4 L1330 781 L1331 781.4 L1332 781.8 L1333 782 L1334 782.1 L1335 782.2 L1336 782.2 L1337 782.3 L1338 782.2 L1339 782.2" fill="none" stroke="#3CBE6E" stroke-width="3" stroke-linejoin="round"/>
<path d="M1308 783.2 L1309 783.1 L1310 783 L1311 783 L1312 782.8 L1313 782.7 L1314 782.5 L1315 782.3 L1316 782 L1317 781.6 L1318 781.1 L1319 780.6 L1320 779.9 L1321 779.2 L1322 778.4 L1323 777.5 L1324 776.6 L1325 775.6 L1326 774.6 L1327 773.7 L1328 772.8 L1329 772.1 L1330 771.5 L1331 771.1 L1332 770.9 L1333 770.9 L1334 771.1 L1335 771.6 L1336 772.1 L1337 772.9 L1338 773.7 L1339 774.6 L1340 775.5 L1341 776.4 L1342 777.3 L1343 778.1 L1344 778.8 L1345 779.4 L1346 779.9 L1347 780.4 L1348 780.7 L1349 781 L1350 781.2 L1351 781.4 L1352 781.6 L1353 781.7 L1354 781.8 L1355 781.9 L1356 781.9 L1357 782 L1357 782 L1308 783.2 Z" fill="url(#g12)" stroke="none"/>
<path d="M1308 783.2 L1309 783.1 L1310 783 L1311 783 L1312 782.8 L1313 782.7 L1314 782.5 L1315 782.3 L1316 782 L1317 781.6 L1318 781.1 L1319 780.6 L1320 779.9 L1321 779.2 L1322 778.4 L1323 777.5 L1324 776.6 L1325 775.6 L1326 774.6 L1327 773.7 L1328 772.8 L1329 772.1 L1330 771.5 L1331 771.1 L1332 770.9 L1333 770.9 L1334 771.1 L1335 771.6 L1336 772.1 L1337 772.9 L1338 773.7 L1339 774.6 L1340 775.5 L1341 776.4 L1342 777.3 L1343 778.1 L1344 778.8 L1345 779.4 L1346 779.9 L1347 780.4 L1348 780.7 L1349 781 L1350 781.2 L1351 781.4 L1352 781.6 L1353 781.7 L1354 781.8 L1355 781.9 L1356 781.9 L1357 782" fill="none" stroke="#FFB41E" stroke-width="3" stroke-linejoin="round"/>
<path d="M1312 783.1 L1313 783.1 L1314 783 L1315 783 L1316 782.9 L1317 782.9 L1318 782.9 L1319 782.8 L1320 782.7 L1321 782.7 L1322 782.6 L1323 782.5 L1324 782.4 L1325 782.2 L1326 782.1 L1327 781.9 L1328 781.7 L1329 781.4 L1330 781.2 L1331 780.9 L1332 780.5 L1333 780.2 L1334 779.8 L1335 779.4 L1336 779 L1337 778.6 L1338 778.2 L1339 777.9 L1340 777.5 L1341 777.2 L1342 777 L1343 776.8 L1344 776.7 L1345 776.6 L1346 776.6 L1347 776.7 L1348 776.8 L1349 777 L1350 777.2 L1351 777.5 L1352 777.9 L1353 778.3 L1354 778.7 L1355 779 L1356 779.4 L1357 779.8 L1358 780.1 L1359 780.4 L1360 780.7 L1361 781 L1362 781.2 L1363 781.4 L1364 781.6 L1365 781.7 L1366 781.8 L1367 781.9 L1368 782 L1369 782.1 L1370 782.1 L1371 782.2 L1372 782.2 L1373 782.3 L1374 782.3 L1375 782.3 L1376 782.3 L1376 782.3 L1312 783.1 Z" fill="url(#g13)" stroke="none"/>
<path d="M1312 783.1 L1313 783.1 L1314 783 L1315 783 L1316 782.9 L1317 782.9 L1318 782.9 L1319 782.8 L1320 782.7 L1321 782.7 L1322 782.6 L1323 782.5 L1324 782.4 L1325 782.2 L1326 782.1 L1327 781.9 L1328 781.7 L1329 781.4 L1330 781.2 L1331 780.9 L1332 780.5 L1333 780.2 L1334 779.8 L1335 779.4 L1336 779 L1337 778.6 L1338 778.2 L1339 777.9 L1340 777.5 L1341 777.2 L1342 777 L1343 776.8 L1344 776.7 L1345 776.6 L1346 776.6 L1347 776.7 L1348 776.8 L1349 777 L1350 777.2 L1351 777.5 L1352 777.9 L1353 778.3 L1354 778.7 L1355 779 L1356 779.4 L1357 779.8 L1358 780.1 L1359 780.4 L1360 780.7 L1361 781 L1362 781.2 L1363 781.4 L1364 781.6 L1365 781.7 L1366 781.8 L1367 781.9 L1368 782 L1369 782.1 L1370 782.1 L1371 782.2 L1372 782.2 L1373 782.3 L1374 782.3 L1375 782.3 L1376 782.3" fill="none" stroke="#FF00FF" stroke-width="3" stroke-linejoin="round"/>
<path d="M1150 786.3 L1290 783.8 L1350 781.9 L1372 782.3" fill="none" stroke="#FF00FF" stroke-width="3.2" stroke-linejoin="round" stroke-linecap="butt" />
<g fill="none" stroke="#b9b9b9" stroke-width="1"><circle cx="1060.6" cy="786.2" r="3.3"/><circle cx="1063.5" cy="786.2" r="3.3"/><circle cx="1066.4" cy="786.2" r="3.3"/><circle cx="1069.3" cy="786.2" r="3.3"/><circle cx="1072.2" cy="786.2" r="3.3"/><circle cx="1075.1" cy="786.2" r="3.3"/><circle cx="1078" cy="786.2" r="3.3"/><circle cx="1080.9" cy="786.2" r="3.3"/><circle cx="1083.8" cy="786.2" r="3.3"/><circle cx="1086.7" cy="786.2" r="3.3"/><circle cx="1089.6" cy="786.2" r="3.3"/><circle cx="1092.5" cy="786.2" r="3.3"/><circle cx="1095.4" cy="786.2" r="3.3"/><circle cx="1098.3" cy="786.2" r="3.3"/><circle cx="1101.2" cy="786.2" r="3.3"/><circle cx="1104.1" cy="786.2" r="3.3"/><circle cx="1107" cy="786.2" r="3.3"/><circle cx="1109.9" cy="786.2" r="3.3"/><circle cx="1112.8" cy="786.2" r="3.3"/><circle cx="1115.7" cy="786.2" r="3.3"/><circle cx="1118.6" cy="786.2" r="3.3"/><circle cx="1121.5" cy="786.3" r="3.3"/><circle cx="1124.4" cy="786.3" r="3.3"/><circle cx="1127.3" cy="786.3" r="3.3"/><circle cx="1130.2" cy="786.3" r="3.3"/><circle cx="1133.1" cy="786.3" r="3.3"/><circle cx="1136" cy="786.3" r="3.3"/><circle cx="1138.9" cy="786.3" r="3.3"/><circle cx="1141.8" cy="786.2" r="3.3"/><circle cx="1144.7" cy="786.2" r="3.3"/><circle cx="1147.6" cy="786.2" r="3.3"/><circle cx="1150.5" cy="786.1" r="3.3"/><circle cx="1153.4" cy="786" r="3.3"/><circle cx="1156.3" cy="785.8" r="3.3"/><circle cx="1159.2" cy="785.5" r="3.3"/><circle cx="1162.1" cy="785.2" r="3.3"/><circle cx="1165" cy="784.7" r="3.3"/><circle cx="1167.9" cy="784.2" r="3.3"/><circle cx="1170.8" cy="783.8" r="3.3"/><circle cx="1173.7" cy="783.3" r="3.3"/><circle cx="1176.6" cy="782.8" r="3.3"/><circle cx="1179.5" cy="782.2" r="3.3"/><circle cx="1182.4" cy="781.6" r="3.3"/><circle cx="1185.3" cy="781.1" r="3.3"/><circle cx="1188.2" cy="780.6" r="3.3"/><circle cx="1191.1" cy="780" r="3.3"/><circle cx="1194" cy="779.2" r="3.3"/><circle cx="1196.9" cy="778" r="3.3"/><circle cx="1199.8" cy="776.4" r="3.3"/><circle cx="1202.7" cy="774.3" r="3.3"/><circle cx="1205.6" cy="771.6" r="3.3"/><circle cx="1208.5" cy="767.6" r="3.3"/><circle cx="1211.4" cy="761.5" r="3.3"/><circle cx="1214.3" cy="753.7" r="3.3"/><circle cx="1217.2" cy="744.5" r="3.3"/><circle cx="1220.1" cy="732.7" r="3.3"/><circle cx="1223" cy="717.4" r="3.3"/><circle cx="1225.9" cy="701.6" r="3.3"/><circle cx="1228.8" cy="681.9" r="3.3"/><circle cx="1231.7" cy="663.2" r="3.3"/><circle cx="1234.6" cy="646.7" r="3.3"/><circle cx="1237.5" cy="628.9" r="3.3"/><circle cx="1240.4" cy="610.7" r="3.3"/><circle cx="1243.3" cy="595.5" r="3.3"/><circle cx="1246.2" cy="580.9" r="3.3"/><circle cx="1249.1" cy="570.1" r="3.3"/><circle cx="1252" cy="565" r="3.3"/><circle cx="1254.9" cy="563.2" r="3.3"/><circle cx="1257.8" cy="564.2" r="3.3"/><circle cx="1260.7" cy="567.2" r="3.3"/><circle cx="1263.6" cy="572.9" r="3.3"/><circle cx="1266.5" cy="581.6" r="3.3"/><circle cx="1269.4" cy="589.7" r="3.3"/><circle cx="1272.3" cy="596.5" r="3.3"/><circle cx="1275.2" cy="600.3" r="3.3"/><circle cx="1278.1" cy="601.9" r="3.3"/><circle cx="1281" cy="600.4" r="3.3"/><circle cx="1283.9" cy="597.1" r="3.3"/><circle cx="1286.8" cy="592.2" r="3.3"/><circle cx="1289.7" cy="588.8" r="3.3"/><circle cx="1292.6" cy="588.1" r="3.3"/><circle cx="1295.5" cy="589.7" r="3.3"/><circle cx="1298.4" cy="593.4" r="3.3"/><circle cx="1301.3" cy="601.9" r="3.3"/><circle cx="1304.2" cy="612.8" r="3.3"/><circle cx="1307.1" cy="626.2" r="3.3"/><circle cx="1310" cy="640.2" r="3.3"/><circle cx="1312.9" cy="654.6" r="3.3"/><circle cx="1315.8" cy="670.3" r="3.3"/><circle cx="1318.7" cy="687.1" r="3.3"/><circle cx="1321.6" cy="704.6" r="3.3"/><circle cx="1324.5" cy="721.5" r="3.3"/><circle cx="1327.4" cy="733.3" r="3.3"/><circle cx="1330.3" cy="743.1" r="3.3"/><circle cx="1333.2" cy="752" r="3.3"/><circle cx="1336.1" cy="759.2" r="3.3"/><circle cx="1339" cy="764.6" r="3.3"/><circle cx="1341.9" cy="768.8" r="3.3"/><circle cx="1344.8" cy="772" r="3.3"/><circle cx="1347.7" cy="774.2" r="3.3"/><circle cx="1350.6" cy="775.5" r="3.3"/><circle cx="1353.5" cy="776.4" r="3.3"/><circle cx="1356.4" cy="777.5" r="3.3"/><circle cx="1359.3" cy="778.8" r="3.3"/><circle cx="1362.2" cy="780.1" r="3.3"/><circle cx="1365.1" cy="781.2" r="3.3"/><circle cx="1368" cy="782" r="3.3"/><circle cx="1370.9" cy="782.5" r="3.3"/><circle cx="1373.8" cy="782.8" r="3.3"/><circle cx="1376.7" cy="783" r="3.3"/><circle cx="1379.6" cy="783.1" r="3.3"/><circle cx="1382.5" cy="783.1" r="3.3"/><circle cx="1385.4" cy="783.1" r="3.3"/><circle cx="1388.3" cy="783.1" r="3.3"/><circle cx="1391.2" cy="783.1" r="3.3"/><circle cx="1394.1" cy="783.1" r="3.3"/><circle cx="1397" cy="783.1" r="3.3"/><circle cx="1399.9" cy="783.1" r="3.3"/><circle cx="1402.8" cy="783.1" r="3.3"/><circle cx="1405.7" cy="783.1" r="3.3"/><circle cx="1408.6" cy="783.1" r="3.3"/><circle cx="1411.5" cy="783.1" r="3.3"/><circle cx="1414.4" cy="783.1" r="3.3"/><circle cx="1417.3" cy="783.1" r="3.3"/><circle cx="1420.2" cy="783.1" r="3.3"/><circle cx="1423.1" cy="783.1" r="3.3"/><circle cx="1426" cy="783.1" r="3.3"/><circle cx="1428.9" cy="783" r="3.3"/><circle cx="1431.8" cy="782.9" r="3.3"/><circle cx="1434.7" cy="782.8" r="3.3"/><circle cx="1437.6" cy="782.7" r="3.3"/><circle cx="1440.5" cy="782.6" r="3.3"/><circle cx="1443.4" cy="782.4" r="3.3"/><circle cx="1446.3" cy="782.3" r="3.3"/><circle cx="1449.2" cy="782.1" r="3.3"/><circle cx="1452.1" cy="782" r="3.3"/><circle cx="1455" cy="781.8" r="3.3"/><circle cx="1457.9" cy="781.7" r="3.3"/><circle cx="1460.8" cy="781.6" r="3.3"/><circle cx="1463.7" cy="781.5" r="3.3"/><circle cx="1466.6" cy="781.4" r="3.3"/><circle cx="1469.5" cy="781.3" r="3.3"/><circle cx="1472.4" cy="781.2" r="3.3"/><circle cx="1475.3" cy="781.1" r="3.3"/><circle cx="1478.2" cy="781" r="3.3"/><circle cx="1481.1" cy="780.9" r="3.3"/><circle cx="1484" cy="780.8" r="3.3"/><circle cx="1486.9" cy="780.7" r="3.3"/><circle cx="1489.8" cy="780.6" r="3.3"/></g>
<path d="M1057 786.2 L1060.3 786.2 L1064.6 786.2 L1069.7 786.2 L1075.4 786.2 L1081.5 786.2 L1087.8 786.2 L1094 786.2 L1100 786.2 L1106.1 786.2 L1112.8 786.2 L1119.6 786.2 L1126.6 786.3 L1133.3 786.3 L1139.6 786.3 L1145.2 786.2 L1150 786.1 L1153.8 786 L1156.9 785.8 L1159.3 785.5 L1161.3 785.3 L1163 785 L1164.6 784.8 L1166.2 784.5 L1168 784.2 L1169.9 783.9 L1171.7 783.6 L1173.5 783.3 L1175.1 783 L1176.8 782.7 L1178.4 782.4 L1179.9 782.1 L1181.5 781.8 L1183.1 781.5 L1184.7 781.2 L1186.2 781 L1187.7 780.7 L1189.2 780.4 L1190.6 780.1 L1192 779.8 L1193.3 779.4 L1194.5 779 L1195.6 778.5 L1196.7 778.1 L1197.7 777.6 L1198.7 777.1 L1199.6 776.5 L1200.6 775.9 L1201.5 775.2 L1202.4 774.5 L1203.3 773.8 L1204.2 773 L1205 772.2 L1205.8 771.4 L1206.6 770.4 L1207.4 769.4 L1208.1 768.3 L1208.8 767.1 L1209.5 765.8 L1210.1 764.5 L1210.8 763 L1211.4 761.5 L1212 759.9 L1212.7 758.3 L1213.3 756.5 L1214 754.6 L1214.7 752.7 L1215.3 750.6 L1216 748.4 L1216.7 746.2 L1217.4 744 L1218 741.7 L1218.6 739.4 L1219.2 737.1 L1219.7 734.8 L1220.2 732.4 L1220.6 730 L1221.1 727.6 L1221.6 725.1 L1222 722.6 L1222.5 720 L1223 717.4 L1223.5 714.8 L1224 712.2 L1224.5 709.5 L1225 706.7 L1225.5 703.9 L1226 701 L1226.5 698 L1227 694.9 L1227.4 691.7 L1227.9 688.4 L1228.4 685.1 L1228.8 681.6 L1229.3 678.1 L1229.8 674.6 L1230.4 671 L1231 667.3 L1231.7 663.5 L1232.3 659.6 L1233 655.6 L1233.7 651.7 L1234.4 647.7 L1235.1 643.9 L1235.7 640.2 L1236.3 636.6 L1236.9 632.9 L1237.4 629.3 L1238 625.7 L1238.5 622.3 L1239 619 L1239.5 615.9 L1240 613 L1240.5 610.4 L1240.9 608 L1241.3 605.8 L1241.7 603.7 L1242.1 601.8 L1242.4 599.9 L1242.8 598 L1243.2 596 L1243.6 594 L1243.9 592 L1244.3 590.1 L1244.7 588.2 L1245 586.3 L1245.4 584.5 L1245.8 582.7 L1246.2 580.9 L1246.6 579.1 L1247.1 577.3 L1247.5 575.5 L1248 573.7 L1248.5 572 L1249 570.4 L1249.5 569 L1250.1 567.8 L1250.7 566.7 L1251.3 565.8 L1252 565 L1252.7 564.3 L1253.4 563.8 L1254.1 563.4 L1254.9 563.2 L1255.6 563.2 L1256.4 563.4 L1257.1 563.7 L1257.9 564.3 L1258.8 565 L1259.6 565.8 L1260.4 566.8 L1261.2 567.9 L1261.9 569.1 L1262.6 570.5 L1263.3 572.1 L1264 573.9 L1264.6 575.8 L1265.3 577.8 L1265.9 579.8 L1266.5 581.7 L1267.2 583.5 L1267.9 585.3 L1268.5 587.1 L1269.1 588.9 L1269.8 590.7 L1270.4 592.4 L1271.1 594 L1271.7 595.4 L1272.4 596.7 L1273.1 597.8 L1273.8 598.8 L1274.6 599.7 L1275.3 600.5 L1276.1 601.1 L1276.8 601.5 L1277.6 601.8 L1278.3 601.9 L1279.1 601.8 L1279.8 601.4 L1280.6 600.8 L1281.4 600 L1282.1 599.2 L1282.9 598.3 L1283.6 597.5 L1284.2 596.7 L1284.8 595.9 L1285.3 595 L1285.8 594.1 L1286.3 593.2 L1286.7 592.3 L1287.2 591.5 L1287.7 590.7 L1288.2 590.1 L1288.7 589.6 L1289.3 589.1 L1289.9 588.7 L1290.4 588.4 L1291 588.2 L1291.6 588 L1292.2 588 L1292.8 588.1 L1293.4 588.3 L1294.1 588.7 L1294.8 589.1 L1295.5 589.7 L1296.2 590.3 L1296.8 591.1 L1297.4 591.9 L1298 592.7 L1298.5 593.6 L1299 594.6 L1299.4 595.7 L1299.8 596.9 L1300.2 598.1 L1300.5 599.3 L1300.9 600.6 L1301.3 601.9 L1301.7 603.2 L1302 604.4 L1302.4 605.7 L1302.8 607 L1303.1 608.4 L1303.5 609.9 L1303.9 611.7 L1304.4 613.7 L1304.9 616 L1305.5 618.5 L1306.1 621.2 L1306.7 624.1 L1307.3 627.1 L1307.9 630.1 L1308.6 633.2 L1309.2 636.3 L1309.8 639.4 L1310.5 642.5 L1311.1 645.7 L1311.8 648.9 L1312.4 652.2 L1313.1 655.6 L1313.7 659 L1314.4 662.5 L1315.1 666.1 L1315.7 669.9 L1316.4 673.7 L1317.1 677.6 L1317.7 681.5 L1318.4 685.4 L1319.1 689.2 L1319.7 693 L1320.3 696.8 L1321 700.6 L1321.6 704.5 L1322.2 708.3 L1322.8 712 L1323.4 715.6 L1324 718.9 L1324.6 722 L1325.2 724.7 L1325.8 727.2 L1326.3 729.4 L1326.9 731.5 L1327.4 733.5 L1328 735.4 L1328.6 737.4 L1329.2 739.4 L1329.8 741.5 L1330.5 743.6 L1331.1 745.7 L1331.8 747.7 L1332.4 749.7 L1333.1 751.7 L1333.7 753.5 L1334.4 755.2 L1335 756.8 L1335.7 758.3 L1336.3 759.6 L1336.9 761 L1337.6 762.2 L1338.3 763.4 L1339 764.6 L1339.7 765.7 L1340.5 766.8 L1341.2 767.9 L1342 769 L1342.9 770 L1343.7 771 L1344.6 771.9 L1345.6 772.7 L1346.6 773.5 L1347.7 774.2 L1348.9 774.8 L1350.1 775.3 L1351.4 775.7 L1352.7 776.2 L1354 776.6 L1355.3 777 L1356.5 777.5 L1357.7 778 L1358.9 778.6 L1360 779.1 L1361.2 779.7 L1362.3 780.2 L1363.5 780.7 L1364.7 781.1 L1366 781.5 L1367.2 781.8 L1368.4 782.1 L1369.5 782.3 L1370.7 782.5 L1371.9 782.6 L1373.4 782.8 L1375 782.9 L1377 783 L1379.3 783.1 L1381.7 783.1 L1384.4 783.1 L1387.3 783.2 L1390.3 783.1 L1393.5 783.1 L1396.7 783.1 L1400 783.1 L1403.4 783.1 L1407 783.1 L1410.7 783.1 L1414.6 783.1 L1418.4 783.1 L1422.3 783.1 L1426.2 783.1 L1430 783 L1433.7 782.9 L1437.4 782.7 L1441.1 782.6 L1444.8 782.4 L1448.5 782.2 L1452.3 782 L1456.1 781.8 L1460 781.6 L1464.2 781.4 L1468.9 781.3 L1473.7 781.1 L1478.5 781 L1483.1 780.8 L1487.2 780.7 L1490.7 780.6 L1493.3 780.5" fill="none" stroke="#7D00FF" stroke-width="3" stroke-linejoin="round" stroke-linecap="butt" />
<line x1="1220.6" y1="546.8" x2="1238" y2="560.4" stroke="#000" stroke-width="2.5"/>
<path d="M1245.9 566.5 L1235.1 562.4 L1239.3 557.1 Z" fill="#000"/>
<line x1="1322.3" y1="588.8" x2="1306.4" y2="604.4" stroke="#000" stroke-width="2.5"/>
<path d="M1299.3 611.4 L1304.8 601.3 L1309.5 606.1 Z" fill="#000"/>
<line x1="1342.7" y1="742.7" x2="1326" y2="759.8" stroke="#000" stroke-width="2.5"/>
<path d="M1319 767 L1324.2 756.8 L1329.1 761.5 Z" fill="#000"/>
<text transform="translate(1180.5 547.2) scale(1.018 0.945)" font-size="17.5" text-anchor="start" fill="#000">C=O</text>
<text transform="translate(1306.6 582.5) scale(1.018 0.945)" font-size="17.5" text-anchor="start" fill="#000">C-O-C</text>
<text transform="translate(1334.8 736.1) scale(1.018 0.945)" font-size="17.5" text-anchor="start" fill="#000">H<tspan font-size="11.5" dy="4.5">2</tspan><tspan dy="-4.5">O</tspan></text>
<rect x="1056.6" y="460.6" width="437" height="351" fill="none" stroke="#000" stroke-width="3"/>
<line x1="1202.3" y1="810.2" x2="1202.3" y2="804.5" stroke="#000" stroke-width="3.1"/>
<line x1="1347.9" y1="810.2" x2="1347.9" y2="804.5" stroke="#000" stroke-width="3.1"/>
<line x1="1129.4" y1="810.2" x2="1129.4" y2="808.1" stroke="#000" stroke-width="3.1"/>
<line x1="1275.1" y1="810.2" x2="1275.1" y2="808.1" stroke="#000" stroke-width="3.1"/>
<line x1="1420.8" y1="810.2" x2="1420.8" y2="808.1" stroke="#000" stroke-width="3.1"/>
<text x="1056.1" y="835.4" font-size="21" text-anchor="middle" fill="#000" >525</text>
<text x="1201.8" y="835.4" font-size="21" text-anchor="middle" fill="#000" >530</text>
<text x="1347.4" y="835.4" font-size="21" text-anchor="middle" fill="#000" >535</text>
<text x="1493.1" y="835.4" font-size="21" text-anchor="middle" fill="#000" >540</text>
<text x="1275.4" y="862.3" font-size="30" text-anchor="middle" fill="#000" >Binding energy (eV)</text>
<text x="1045.4" y="645.2" font-size="30" text-anchor="middle" fill="#000" transform="rotate(-90 1045.4 645.2)" >Intensity (a.u.)</text>
<text x="1016.2" y="488.1" font-size="35" text-anchor="start" fill="#000" >(f)</text>
<text transform="translate(1082.3 498.8) scale(1.018 0.945)" font-size="18" text-anchor="start" fill="#000">O 1s of M-CA4-M</text>
</g>
</svg>
</body></html>
